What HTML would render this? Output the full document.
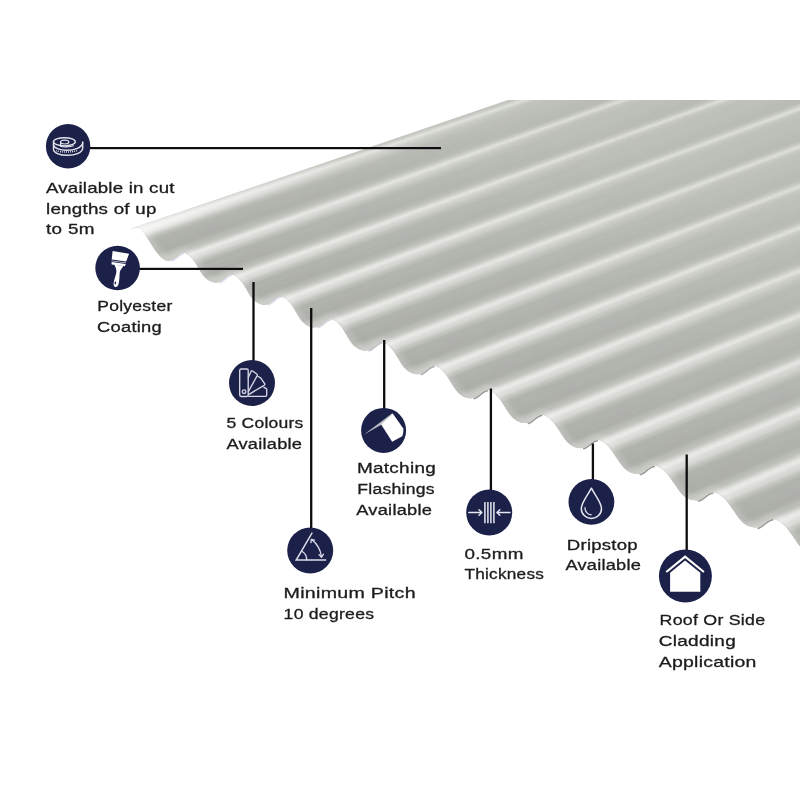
<!DOCTYPE html>
<html lang="en"><head><meta charset="utf-8"><title>Corrugated sheet features</title>
<style>
html,body{margin:0;padding:0;background:#fff;}
body{width:800px;height:800px;overflow:hidden;}
svg{display:block;}
text{font-family:"Liberation Sans",sans-serif;font-size:14.8px;fill:#1c1c1c;stroke:#1c1c1c;stroke-width:0.3px;}
</style></head><body>
<svg width="800" height="800" viewBox="0 0 800 800">
<defs>
<clipPath id="sheet"><path d="M130.1,229.1 L508,100 L800,100 L800,700 L811.4,554.4 L810.2,554.0 L809.0,553.6 L807.8,553.1 L806.6,552.4 L805.3,551.7 L804.1,550.7 L802.9,549.7 L801.7,548.4 L800.5,547.1 L799.3,545.5 L798.0,543.9 L796.8,542.1 L795.6,540.3 L794.4,538.5 L793.2,536.8 L792.0,535.1 L790.7,533.4 L789.5,531.7 L788.3,530.1 L787.1,528.5 L785.9,527.1 L784.7,525.8 L783.4,524.6 L782.2,523.6 L781.0,522.7 L779.8,521.8 L778.6,521.0 L777.4,520.3 L776.1,519.6 L774.9,519.2 L773.7,519.0 L772.5,519.0 L771.3,519.3 L770.1,519.7 L768.8,520.3 L767.6,521.1 L766.4,521.9 L765.2,522.9 L764.0,523.8 L762.8,524.8 L761.5,525.7 L760.3,526.5 L759.1,527.0 L757.9,527.4 L756.7,527.5 L755.5,527.5 L754.2,527.4 L753.1,527.2 L751.9,527.0 L750.7,526.7 L749.5,526.4 L748.3,526.0 L747.1,525.5 L745.9,524.8 L744.7,524.1 L743.5,523.2 L742.3,522.1 L741.2,520.9 L740.0,519.6 L738.8,518.1 L737.6,516.5 L736.4,514.7 L735.2,513.0 L734.0,511.2 L732.8,509.5 L731.6,507.8 L730.5,506.2 L729.3,504.6 L728.1,503.0 L726.9,501.5 L725.7,500.0 L724.5,498.8 L723.3,497.6 L722.1,496.6 L720.9,495.8 L719.7,494.9 L718.6,494.1 L717.4,493.4 L716.2,492.8 L715.0,492.3 L713.8,492.1 L712.6,492.2 L711.4,492.4 L710.2,492.8 L709.0,493.4 L707.9,494.2 L706.7,495.0 L705.5,495.9 L704.3,496.9 L703.1,497.8 L701.9,498.7 L700.7,499.4 L699.5,500.0 L698.3,500.3 L697.1,500.4 L696.0,500.4 L694.8,500.3 L693.6,500.2 L692.4,500.0 L691.3,499.8 L690.1,499.4 L688.9,499.0 L687.8,498.5 L686.6,497.9 L685.5,497.2 L684.3,496.3 L683.1,495.3 L682.0,494.2 L680.8,492.9 L679.6,491.5 L678.5,489.9 L677.3,488.3 L676.2,486.6 L675.0,484.8 L673.8,483.1 L672.7,481.4 L671.5,479.7 L670.3,478.1 L669.2,476.5 L668.0,475.0 L666.8,473.6 L665.7,472.3 L664.5,471.1 L663.4,470.1 L662.2,469.2 L661.0,468.4 L659.9,467.6 L658.7,466.9 L657.5,466.2 L656.4,465.8 L655.2,465.6 L654.0,465.6 L652.9,465.9 L651.7,466.3 L650.6,466.9 L649.4,467.6 L648.2,468.5 L647.1,469.4 L645.9,470.3 L644.7,471.2 L643.6,472.1 L642.4,472.8 L641.2,473.4 L640.1,473.7 L638.9,473.9 L637.8,473.9 L636.6,473.9 L635.5,473.8 L634.3,473.6 L633.2,473.4 L632.1,473.1 L630.9,472.7 L629.8,472.2 L628.7,471.6 L627.5,470.9 L626.4,470.1 L625.3,469.2 L624.2,468.1 L623.0,466.9 L621.9,465.6 L620.8,464.1 L619.6,462.5 L618.5,460.8 L617.4,459.1 L616.2,457.4 L615.1,455.7 L614.0,454.0 L612.9,452.4 L611.7,450.8 L610.6,449.2 L609.5,447.8 L608.3,446.5 L607.2,445.4 L606.1,444.4 L604.9,443.5 L603.8,442.6 L602.7,441.9 L601.6,441.1 L600.4,440.5 L599.3,440.1 L598.2,439.9 L597.0,439.9 L595.9,440.1 L594.8,440.6 L593.6,441.2 L592.5,441.9 L591.4,442.7 L590.2,443.6 L589.1,444.5 L588.0,445.4 L586.9,446.2 L585.7,446.9 L584.6,447.5 L583.5,447.9 L582.3,448.1 L581.2,448.2 L580.1,448.2 L579.0,448.1 L577.9,448.0 L576.8,447.8 L575.7,447.5 L574.5,447.1 L573.4,446.6 L572.3,446.0 L571.2,445.4 L570.1,444.6 L569.0,443.7 L567.9,442.7 L566.8,441.6 L565.7,440.3 L564.6,438.9 L563.5,437.3 L562.4,435.7 L561.3,434.0 L560.2,432.3 L559.1,430.5 L558.0,428.9 L556.9,427.2 L555.7,425.6 L554.6,424.0 L553.5,422.6 L552.4,421.3 L551.3,420.2 L550.2,419.2 L549.1,418.3 L548.0,417.4 L546.9,416.6 L545.8,415.9 L544.7,415.3 L543.6,414.9 L542.5,414.7 L541.4,414.7 L540.3,414.9 L539.2,415.3 L538.1,415.9 L536.9,416.6 L535.8,417.4 L534.7,418.3 L533.6,419.2 L532.5,420.1 L531.4,420.9 L530.3,421.6 L529.2,422.2 L528.1,422.6 L527.0,422.8 L525.9,423.0 L524.8,423.0 L523.7,423.0 L522.6,422.9 L521.5,422.7 L520.5,422.4 L519.4,422.0 L518.3,421.6 L517.2,421.0 L516.1,420.4 L515.0,419.6 L514.0,418.8 L512.9,417.9 L511.8,416.8 L510.7,415.6 L509.6,414.2 L508.5,412.7 L507.5,411.1 L506.4,409.4 L505.3,407.7 L504.2,405.9 L503.1,404.2 L502.1,402.6 L501.0,400.9 L499.9,399.4 L498.8,398.0 L497.7,396.7 L496.6,395.5 L495.6,394.5 L494.5,393.6 L493.4,392.7 L492.3,392.0 L491.2,391.2 L490.1,390.6 L489.1,390.2 L488.0,390.0 L486.9,390.0 L485.8,390.2 L484.7,390.6 L483.7,391.2 L482.6,391.9 L481.5,392.7 L480.4,393.6 L479.3,394.5 L478.2,395.3 L477.2,396.2 L476.1,396.9 L475.0,397.4 L473.9,397.8 L472.8,398.1 L471.7,398.3 L470.7,398.4 L469.6,398.4 L468.5,398.3 L467.5,398.1 L466.4,397.8 L465.4,397.5 L464.3,397.0 L463.3,396.5 L462.2,395.9 L461.1,395.2 L460.1,394.4 L459.0,393.5 L458.0,392.5 L456.9,391.3 L455.8,390.0 L454.8,388.6 L453.7,387.0 L452.7,385.3 L451.6,383.6 L450.5,381.8 L449.5,380.1 L448.4,378.4 L447.4,376.8 L446.3,375.3 L445.2,373.8 L444.2,372.5 L443.1,371.4 L442.1,370.3 L441.0,369.4 L439.9,368.6 L438.9,367.8 L437.8,367.1 L436.8,366.5 L435.7,366.1 L434.6,365.8 L433.6,365.8 L432.5,366.1 L431.5,366.5 L430.4,367.0 L429.3,367.7 L428.3,368.5 L427.2,369.4 L426.2,370.3 L425.1,371.1 L424.1,371.9 L423.0,372.6 L421.9,373.2 L420.9,373.6 L419.8,373.9 L418.8,374.2 L417.7,374.3 L416.7,374.3 L415.6,374.2 L414.6,374.1 L413.5,373.8 L412.5,373.5 L411.5,373.0 L410.4,372.5 L409.4,371.9 L408.4,371.3 L407.3,370.5 L406.3,369.7 L405.2,368.7 L404.2,367.6 L403.2,366.4 L402.1,364.9 L401.1,363.4 L400.1,361.7 L399.0,360.0 L398.0,358.3 L397.0,356.5 L395.9,354.8 L394.9,353.2 L393.8,351.6 L392.8,350.2 L391.8,348.9 L390.7,347.7 L389.7,346.7 L388.7,345.8 L387.6,344.9 L386.6,344.1 L385.5,343.4 L384.5,342.8 L383.5,342.4 L382.4,342.2 L381.4,342.2 L380.4,342.4 L379.3,342.8 L378.3,343.4 L377.2,344.1 L376.2,344.9 L375.2,345.7 L374.1,346.6 L373.1,347.4 L372.1,348.2 L371.0,348.9 L370.0,349.4 L368.9,349.9 L367.9,350.3 L366.9,350.5 L365.8,350.6 L364.8,350.7 L363.8,350.7 L362.8,350.5 L361.8,350.3 L360.8,349.9 L359.7,349.5 L358.7,349.0 L357.7,348.4 L356.7,347.8 L355.7,347.1 L354.7,346.3 L353.6,345.4 L352.6,344.4 L351.6,343.2 L350.6,341.8 L349.6,340.3 L348.6,338.6 L347.5,336.9 L346.5,335.1 L345.5,333.4 L344.5,331.7 L343.5,330.0 L342.5,328.5 L341.5,327.0 L340.4,325.7 L339.4,324.6 L338.4,323.5 L337.4,322.6 L336.4,321.7 L335.4,321.0 L334.3,320.3 L333.3,319.7 L332.3,319.3 L331.3,319.0 L330.3,319.0 L329.3,319.2 L328.2,319.6 L327.2,320.2 L326.2,320.9 L325.2,321.7 L324.2,322.5 L323.2,323.3 L322.2,324.2 L321.1,324.9 L320.1,325.6 L319.1,326.2 L318.1,326.7 L317.1,327.1 L316.1,327.3 L315.0,327.5 L314.0,327.6 L313.1,327.5 L312.1,327.4 L311.1,327.2 L310.1,326.8 L309.1,326.4 L308.1,325.9 L307.1,325.4 L306.1,324.7 L305.1,324.1 L304.1,323.3 L303.1,322.4 L302.1,321.4 L301.1,320.2 L300.1,318.8 L299.1,317.3 L298.1,315.7 L297.1,314.0 L296.1,312.3 L295.1,310.6 L294.1,309.0 L293.1,307.3 L292.2,305.8 L291.2,304.4 L290.2,303.1 L289.2,302.0 L288.2,300.9 L287.2,300.0 L286.2,299.2 L285.2,298.4 L284.2,297.8 L283.2,297.2 L282.2,296.8 L281.2,296.5 L280.2,296.5 L279.2,296.7 L278.2,297.1 L277.2,297.7 L276.2,298.4 L275.2,299.1 L274.2,299.9 L273.2,300.8 L272.3,301.6 L271.3,302.3 L270.3,303.0 L269.3,303.6 L268.3,304.0 L267.3,304.4 L266.3,304.7 L265.3,304.9 L264.3,304.9 L263.3,304.9 L262.4,304.7 L261.4,304.5 L260.4,304.2 L259.4,303.8 L258.5,303.3 L257.5,302.7 L256.5,302.1 L255.5,301.5 L254.6,300.7 L253.6,299.9 L252.6,298.9 L251.6,297.7 L250.7,296.4 L249.7,294.9 L248.7,293.3 L247.7,291.7 L246.8,290.0 L245.8,288.3 L244.8,286.7 L243.8,285.1 L242.9,283.6 L241.9,282.2 L240.9,280.9 L239.9,279.8 L239.0,278.8 L238.0,277.9 L237.0,277.1 L236.0,276.4 L235.1,275.7 L234.1,275.1 L233.1,274.7 L232.1,274.5 L231.2,274.5 L230.2,274.7 L229.2,275.1 L228.2,275.6 L227.3,276.3 L226.3,277.0 L225.3,277.8 L224.3,278.7 L223.4,279.4 L222.4,280.2 L221.4,280.8 L220.4,281.4 L219.5,281.9 L218.5,282.2 L217.5,282.5 L216.5,282.7 L215.6,282.7 L214.6,282.7 L213.7,282.5 L212.7,282.3 L211.8,282.0 L210.8,281.6 L209.9,281.1 L208.9,280.6 L207.9,280.0 L207.0,279.3 L206.0,278.6 L205.1,277.8 L204.1,276.8 L203.2,275.6 L202.2,274.3 L201.3,272.9 L200.3,271.3 L199.4,269.7 L198.4,268.1 L197.4,266.4 L196.5,264.8 L195.5,263.3 L194.6,261.8 L193.6,260.5 L192.7,259.2 L191.7,258.1 L190.8,257.1 L189.8,256.3 L188.8,255.5 L187.9,254.7 L186.9,254.1 L186.0,253.5 L185.0,253.1 L184.1,252.9 L183.1,252.9 L182.2,253.1 L181.2,253.5 L180.2,254.0 L179.3,254.7 L178.3,255.4 L177.4,256.2 L176.4,257.0 L175.5,257.8 L174.5,258.5 L173.6,259.1 L172.6,259.7 L171.6,260.1 L170.7,260.5 L169.7,260.7 L168.8,260.9 L168.1,260.9 L167.4,260.8 L166.7,260.7 L166.0,260.6 L165.2,260.4 L164.5,259.9 L163.7,259.3 L162.8,258.7 L162.0,258.0 L161.1,257.3 L160.2,256.5 L159.3,255.5 L158.4,254.6 L157.5,253.5 L156.6,252.3 L155.6,251.0 L154.7,249.7 L153.8,248.3 L152.8,246.8 L151.9,245.3 L150.9,243.8 L150.0,242.3 L149.1,240.7 L148.1,239.2 L147.2,237.7 L146.2,236.3 L145.3,234.8 L144.4,233.4 L143.4,232.1 L142.5,231.0 L141.6,229.9 L140.7,228.8 L139.8,227.9 L138.8,227.6 L137.4,227.7 L135.8,227.9 L134.3,228.1 L132.9,228.4 L131.5,228.7 L130.1,229.1 Z"/></clipPath>
<filter id="rimblur" filterUnits="userSpaceOnUse" x="0" y="0" width="900" height="800"><feGaussianBlur stdDeviation="2"/></filter>
<linearGradient id="tipfade" gradientUnits="userSpaceOnUse" x1="128" y1="230" x2="340" y2="157.5"><stop offset="0" stop-color="#fff" stop-opacity="0.62"/><stop offset="0.35" stop-color="#fff" stop-opacity="0.36"/><stop offset="1" stop-color="#fff" stop-opacity="0"/></linearGradient>
<linearGradient id="gl1" gradientUnits="userSpaceOnUse" x1="142.3" y1="230.8" x2="532.3" y2="98.5"><stop offset="0" stop-color="#fff" stop-opacity="0.40"/><stop offset="0.45" stop-color="#fff" stop-opacity="0.24"/><stop offset="1" stop-color="#fff" stop-opacity="0"/></linearGradient>
<linearGradient id="gd1" gradientUnits="userSpaceOnUse" x1="154.3" y1="249.1" x2="544.3" y2="114.3"><stop offset="0" stop-color="#000" stop-opacity="0.075"/><stop offset="0.5" stop-color="#000" stop-opacity="0.045"/><stop offset="1" stop-color="#000" stop-opacity="0"/></linearGradient>
<linearGradient id="gl2" gradientUnits="userSpaceOnUse" x1="190.0" y1="256.4" x2="580.0" y2="117.1"><stop offset="0" stop-color="#fff" stop-opacity="0.40"/><stop offset="0.45" stop-color="#fff" stop-opacity="0.24"/><stop offset="1" stop-color="#fff" stop-opacity="0"/></linearGradient>
<linearGradient id="gd2" gradientUnits="userSpaceOnUse" x1="201.5" y1="273.2" x2="591.5" y2="133.3"><stop offset="0" stop-color="#000" stop-opacity="0.075"/><stop offset="0.5" stop-color="#000" stop-opacity="0.045"/><stop offset="1" stop-color="#000" stop-opacity="0"/></linearGradient>
<linearGradient id="gl3" gradientUnits="userSpaceOnUse" x1="238.2" y1="278.1" x2="628.2" y2="136.2"><stop offset="0" stop-color="#fff" stop-opacity="0.40"/><stop offset="0.45" stop-color="#fff" stop-opacity="0.24"/><stop offset="1" stop-color="#fff" stop-opacity="0"/></linearGradient>
<linearGradient id="gd3" gradientUnits="userSpaceOnUse" x1="250.0" y1="295.3" x2="640.0" y2="152.8"><stop offset="0" stop-color="#000" stop-opacity="0.075"/><stop offset="0.5" stop-color="#000" stop-opacity="0.045"/><stop offset="1" stop-color="#000" stop-opacity="0"/></linearGradient>
<linearGradient id="gl4" gradientUnits="userSpaceOnUse" x1="287.4" y1="300.2" x2="677.4" y2="155.7"><stop offset="0" stop-color="#fff" stop-opacity="0.40"/><stop offset="0.45" stop-color="#fff" stop-opacity="0.24"/><stop offset="1" stop-color="#fff" stop-opacity="0"/></linearGradient>
<linearGradient id="gd4" gradientUnits="userSpaceOnUse" x1="299.5" y1="317.9" x2="689.5" y2="172.7"><stop offset="0" stop-color="#000" stop-opacity="0.075"/><stop offset="0.5" stop-color="#000" stop-opacity="0.045"/><stop offset="1" stop-color="#000" stop-opacity="0"/></linearGradient>
<linearGradient id="gl5" gradientUnits="userSpaceOnUse" x1="337.6" y1="322.8" x2="727.6" y2="175.6"><stop offset="0" stop-color="#fff" stop-opacity="0.40"/><stop offset="0.45" stop-color="#fff" stop-opacity="0.24"/><stop offset="1" stop-color="#fff" stop-opacity="0"/></linearGradient>
<linearGradient id="gd5" gradientUnits="userSpaceOnUse" x1="350.1" y1="341.1" x2="740.1" y2="193.3"><stop offset="0" stop-color="#000" stop-opacity="0.075"/><stop offset="0.5" stop-color="#000" stop-opacity="0.045"/><stop offset="1" stop-color="#000" stop-opacity="0"/></linearGradient>
<linearGradient id="gl6" gradientUnits="userSpaceOnUse" x1="388.9" y1="346.0" x2="778.9" y2="196.2"><stop offset="0" stop-color="#fff" stop-opacity="0.40"/><stop offset="0.45" stop-color="#fff" stop-opacity="0.24"/><stop offset="1" stop-color="#fff" stop-opacity="0"/></linearGradient>
<linearGradient id="gd6" gradientUnits="userSpaceOnUse" x1="402.0" y1="364.7" x2="792.0" y2="214.3"><stop offset="0" stop-color="#000" stop-opacity="0.075"/><stop offset="0.5" stop-color="#000" stop-opacity="0.045"/><stop offset="1" stop-color="#000" stop-opacity="0"/></linearGradient>
<linearGradient id="gl7" gradientUnits="userSpaceOnUse" x1="441.4" y1="369.7" x2="831.4" y2="217.3"><stop offset="0" stop-color="#fff" stop-opacity="0.40"/><stop offset="0.45" stop-color="#fff" stop-opacity="0.24"/><stop offset="1" stop-color="#fff" stop-opacity="0"/></linearGradient>
<linearGradient id="gd7" gradientUnits="userSpaceOnUse" x1="455.0" y1="388.8" x2="845.0" y2="235.8"><stop offset="0" stop-color="#000" stop-opacity="0.075"/><stop offset="0.5" stop-color="#000" stop-opacity="0.045"/><stop offset="1" stop-color="#000" stop-opacity="0"/></linearGradient>
<linearGradient id="gl8" gradientUnits="userSpaceOnUse" x1="494.9" y1="393.9" x2="884.9" y2="238.9"><stop offset="0" stop-color="#fff" stop-opacity="0.40"/><stop offset="0.45" stop-color="#fff" stop-opacity="0.24"/><stop offset="1" stop-color="#fff" stop-opacity="0"/></linearGradient>
<linearGradient id="gd8" gradientUnits="userSpaceOnUse" x1="509.1" y1="413.4" x2="899.1" y2="257.7"><stop offset="0" stop-color="#000" stop-opacity="0.075"/><stop offset="0.5" stop-color="#000" stop-opacity="0.045"/><stop offset="1" stop-color="#000" stop-opacity="0"/></linearGradient>
<linearGradient id="gl9" gradientUnits="userSpaceOnUse" x1="549.6" y1="418.7" x2="939.6" y2="261.0"><stop offset="0" stop-color="#fff" stop-opacity="0.40"/><stop offset="0.45" stop-color="#fff" stop-opacity="0.24"/><stop offset="1" stop-color="#fff" stop-opacity="0"/></linearGradient>
<linearGradient id="gd9" gradientUnits="userSpaceOnUse" x1="564.3" y1="438.5" x2="954.3" y2="280.2"><stop offset="0" stop-color="#000" stop-opacity="0.075"/><stop offset="0.5" stop-color="#000" stop-opacity="0.045"/><stop offset="1" stop-color="#000" stop-opacity="0"/></linearGradient>
<linearGradient id="gl10" gradientUnits="userSpaceOnUse" x1="605.5" y1="444.0" x2="995.5" y2="283.7"><stop offset="0" stop-color="#fff" stop-opacity="0.40"/><stop offset="0.45" stop-color="#fff" stop-opacity="0.24"/><stop offset="1" stop-color="#fff" stop-opacity="0"/></linearGradient>
<linearGradient id="gd10" gradientUnits="userSpaceOnUse" x1="620.8" y1="464.2" x2="1010.8" y2="303.2"><stop offset="0" stop-color="#000" stop-opacity="0.075"/><stop offset="0.5" stop-color="#000" stop-opacity="0.045"/><stop offset="1" stop-color="#000" stop-opacity="0"/></linearGradient>
<linearGradient id="gl11" gradientUnits="userSpaceOnUse" x1="662.9" y1="469.8" x2="1052.9" y2="306.9"><stop offset="0" stop-color="#fff" stop-opacity="0.40"/><stop offset="0.45" stop-color="#fff" stop-opacity="0.24"/><stop offset="1" stop-color="#fff" stop-opacity="0"/></linearGradient>
<linearGradient id="gd11" gradientUnits="userSpaceOnUse" x1="678.9" y1="490.5" x2="1068.9" y2="326.9"><stop offset="0" stop-color="#000" stop-opacity="0.075"/><stop offset="0.5" stop-color="#000" stop-opacity="0.045"/><stop offset="1" stop-color="#000" stop-opacity="0"/></linearGradient>
<linearGradient id="gl12" gradientUnits="userSpaceOnUse" x1="721.7" y1="496.3" x2="1111.7" y2="330.8"><stop offset="0" stop-color="#fff" stop-opacity="0.40"/><stop offset="0.45" stop-color="#fff" stop-opacity="0.24"/><stop offset="1" stop-color="#fff" stop-opacity="0"/></linearGradient>
<linearGradient id="gd12" gradientUnits="userSpaceOnUse" x1="738.2" y1="517.4" x2="1128.2" y2="351.1"><stop offset="0" stop-color="#000" stop-opacity="0.075"/><stop offset="0.5" stop-color="#000" stop-opacity="0.045"/><stop offset="1" stop-color="#000" stop-opacity="0"/></linearGradient>
<linearGradient id="gl13" gradientUnits="userSpaceOnUse" x1="781.8" y1="523.3" x2="1171.8" y2="355.1"><stop offset="0" stop-color="#fff" stop-opacity="0.40"/><stop offset="0.45" stop-color="#fff" stop-opacity="0.24"/><stop offset="1" stop-color="#fff" stop-opacity="0"/></linearGradient>
<linearGradient id="gd13" gradientUnits="userSpaceOnUse" x1="798.8" y1="544.9" x2="1188.8" y2="376.0"><stop offset="0" stop-color="#000" stop-opacity="0.075"/><stop offset="0.5" stop-color="#000" stop-opacity="0.045"/><stop offset="1" stop-color="#000" stop-opacity="0"/></linearGradient>
<filter id="glowblur" filterUnits="userSpaceOnUse" x="0" y="0" width="900" height="800"><feGaussianBlur stdDeviation="1.8"/></filter>
<filter id="soft" filterUnits="userSpaceOnUse" x="0" y="0" width="900" height="800"><feGaussianBlur stdDeviation="0.7"/></filter>
</defs>
<rect width="800" height="800" fill="#ffffff"/>
<g id="underside">
<path d="M171.9,260.9 L172.8,260.5 L173.7,260.0 L174.6,259.4 L175.5,258.8 L176.4,258.1 L177.2,257.3 L178.1,256.6 L179.0,255.9 L179.9,255.2 L180.8,254.7 L181.6,254.2 L182.5,253.9 L183.4,253.7" fill="none" stroke="#dcdcee" stroke-width="1.6" stroke-linecap="round"/>
<path d="M219.8,282.7 L220.7,282.2 L221.6,281.7 L222.5,281.1 L223.4,280.5 L224.3,279.8 L225.2,279.0 L226.1,278.3 L227.0,277.5 L227.9,276.9 L228.8,276.3 L229.7,275.8 L230.6,275.5 L231.5,275.3" fill="none" stroke="#dcdcee" stroke-width="1.6" stroke-linecap="round"/>
<path d="M268.6,304.8 L269.5,304.4 L270.4,303.9 L271.3,303.3 L272.2,302.6 L273.2,301.9 L274.1,301.1 L275.0,300.4 L275.9,299.6 L276.8,298.9 L277.8,298.3 L278.7,297.9 L279.6,297.5 L280.5,297.3" fill="none" stroke="#dcdcee" stroke-width="1.6" stroke-linecap="round"/>
<path d="M318.4,327.5 L319.3,327.0 L320.3,326.5 L321.2,325.9 L322.1,325.2 L323.1,324.5 L324.0,323.7 L325.0,322.9 L325.9,322.2 L326.8,321.5 L327.8,320.9 L328.7,320.4 L329.6,320.0 L330.6,319.8" fill="none" stroke="#d2d2e1" stroke-width="1.6" stroke-linecap="round"/>
<path d="M369.2,350.7 L370.2,350.3 L371.2,349.8 L372.1,349.1 L373.1,348.4 L374.0,347.7 L375.0,346.9 L375.9,346.1 L376.9,345.3 L377.9,344.6 L378.8,344.0 L379.8,343.5 L380.7,343.2 L381.7,343.0" fill="none" stroke="#bebec7" stroke-width="1.6" stroke-linecap="round"/>
<path d="M421.2,374.4 L422.2,374.0 L423.1,373.5 L424.1,372.9 L425.1,372.2 L426.1,371.4 L427.0,370.6 L428.0,369.8 L429.0,369.0 L430.0,368.3 L431.0,367.7 L431.9,367.2 L432.9,366.8 L433.9,366.6" fill="none" stroke="#aaabad" stroke-width="1.6" stroke-linecap="round"/>
<path d="M474.2,398.6 L475.2,398.3 L476.2,397.7 L477.2,397.1 L478.2,396.4 L479.2,395.6 L480.2,394.8 L481.2,394.0 L482.2,393.2 L483.2,392.5 L484.2,391.9 L485.2,391.4 L486.2,391.0 L487.2,390.8" fill="none" stroke="#969894" stroke-width="1.6" stroke-linecap="round"/>
<path d="M528.4,423.4 L529.4,423.0 L530.4,422.5 L531.5,421.9 L532.5,421.2 L533.5,420.4 L534.5,419.5 L535.5,418.7 L536.6,417.9 L537.6,417.2 L538.6,416.6 L539.6,416.1 L540.6,415.7 L541.7,415.5" fill="none" stroke="#969894" stroke-width="1.6" stroke-linecap="round"/>
<path d="M583.8,448.7 L584.8,448.3 L585.9,447.8 L586.9,447.2 L587.9,446.4 L589.0,445.6 L590.0,444.8 L591.1,444.0 L592.1,443.2 L593.2,442.4 L594.2,441.8 L595.2,441.3 L596.3,440.9 L597.3,440.7" fill="none" stroke="#969894" stroke-width="1.6" stroke-linecap="round"/>
<path d="M640.4,474.5 L641.5,474.2 L642.5,473.7 L643.6,473.0 L644.7,472.3 L645.8,471.4 L646.8,470.6 L647.9,469.7 L649.0,468.9 L650.0,468.2 L651.1,467.6 L652.2,467.0 L653.3,466.6 L654.3,466.4" fill="none" stroke="#969894" stroke-width="1.6" stroke-linecap="round"/>
<path d="M698.6,501.1 L699.7,500.8 L700.8,500.3 L701.9,499.7 L703.0,498.9 L704.1,498.0 L705.2,497.2 L706.3,496.3 L707.4,495.5 L708.5,494.7 L709.6,494.1 L710.7,493.6 L711.8,493.2 L712.9,493.0" fill="none" stroke="#969894" stroke-width="1.6" stroke-linecap="round"/>
<path d="M758.2,528.2 L759.3,527.9 L760.4,527.4 L761.6,526.7 L762.7,525.9 L763.8,525.0 L764.9,524.1 L766.1,523.2 L767.2,522.4 L768.3,521.7 L769.4,521.0 L770.5,520.5 L771.7,520.1 L772.8,519.8" fill="none" stroke="#969894" stroke-width="1.6" stroke-linecap="round"/>
<path d="M819.1,555.8 L820.3,555.5 L821.4,555.0 L822.6,554.3 L823.7,553.5 L824.8,552.6 L826.0,551.7 L827.1,550.8 L828.3,549.9 L829.4,549.2 L830.6,548.5 L831.7,547.9 L832.9,547.5 L834.0,547.3" fill="none" stroke="#969894" stroke-width="1.6" stroke-linecap="round"/>
</g>
<g clip-path="url(#sheet)">
<rect x="100" y="90" width="720" height="520" fill="#c1c3bd"/>
<g filter="url(#soft)">
<polygon points="130.1,229.1 860.0,-17.0 860.0,-16.4 135.2,228.0" fill="#c3c5bf" stroke="#c3c5bf" stroke-width="0.5"/>
<polygon points="135.2,228.0 860.0,-16.4 860.0,-15.9 137.7,227.7" fill="#c5c7c1" stroke="#c5c7c1" stroke-width="0.5"/>
<polygon points="137.7,227.7 860.0,-15.9 860.0,-15.7 139.0,227.6" fill="#c6c8c2" stroke="#c6c8c2" stroke-width="0.5"/>
<polygon points="139.0,227.6 860.0,-15.7 860.0,-15.5 139.6,227.8" fill="#c8cac4" stroke="#c8cac4" stroke-width="0.5"/>
<polygon points="139.6,227.8 860.0,-15.5 860.0,-15.1 140.1,228.1" fill="#cbcdc7" stroke="#cbcdc7" stroke-width="0.5"/>
<polygon points="140.1,228.1 860.0,-15.1 860.0,-14.7 140.6,228.6" fill="#cfd1cb" stroke="#cfd1cb" stroke-width="0.5"/>
<polygon points="140.6,228.6 860.0,-14.7 860.0,-14.2 141.0,229.1" fill="#d4d6d0" stroke="#d4d6d0" stroke-width="0.5"/>
<polygon points="141.0,229.1 860.0,-14.2 860.0,-13.6 141.5,229.7" fill="#dadcd6" stroke="#dadcd6" stroke-width="0.5"/>
<polygon points="141.5,229.7 860.0,-13.6 860.0,-12.4 142.4,230.9" fill="#dcded8" stroke="#dcded8" stroke-width="0.5"/>
<polygon points="142.4,230.9 860.0,-12.4 860.0,-11.9 142.9,231.4" fill="#d7d9d3" stroke="#d7d9d3" stroke-width="0.5"/>
<polygon points="142.9,231.4 860.0,-11.9 860.0,-11.3 143.4,232.1" fill="#d1d3cd" stroke="#d1d3cd" stroke-width="0.5"/>
<polygon points="143.4,232.1 860.0,-11.3 860.0,-10.6 143.9,232.7" fill="#cccec8" stroke="#cccec8" stroke-width="0.5"/>
<polygon points="143.9,232.7 860.0,-10.6 860.0,-9.9 144.4,233.4" fill="#c8cac4" stroke="#c8cac4" stroke-width="0.5"/>
<polygon points="144.4,233.4 860.0,-9.9 860.0,-9.2 144.8,234.1" fill="#c5c7c1" stroke="#c5c7c1" stroke-width="0.5"/>
<polygon points="144.8,234.1 860.0,-9.2 860.0,-7.8 145.8,235.6" fill="#c2c4be" stroke="#c2c4be" stroke-width="0.5"/>
<polygon points="145.8,235.6 860.0,-7.8 860.0,-5.6 147.3,237.8" fill="#c0c2bc" stroke="#c0c2bc" stroke-width="0.5"/>
<polygon points="147.3,237.8 860.0,-5.6 860.0,0.6 151.2,244.2" fill="#bec0ba" stroke="#bec0ba" stroke-width="0.5"/>
<polygon points="151.2,244.2 860.0,0.6 860.0,4.3 153.6,248.1" fill="#bcbeb8" stroke="#bcbeb8" stroke-width="0.5"/>
<polygon points="153.6,248.1 860.0,4.3 860.0,8.3 156.6,252.3" fill="#babcb6" stroke="#babcb6" stroke-width="0.5"/>
<polygon points="156.6,252.3 860.0,8.3 860.0,12.5 160.9,257.0" fill="#b9bbb5" stroke="#b9bbb5" stroke-width="0.5"/>
<polygon points="160.9,257.0 860.0,12.5 860.0,13.1 161.8,257.8" fill="#bcbeb8" stroke="#bcbeb8" stroke-width="0.5"/>
<polygon points="161.8,257.8 860.0,13.1 860.0,13.7 162.6,258.5" fill="#bec0ba" stroke="#bec0ba" stroke-width="0.5"/>
<polygon points="162.6,258.5 860.0,13.7 860.0,14.2 163.5,259.2" fill="#c1c3bd" stroke="#c1c3bd" stroke-width="0.5"/>
<polygon points="163.5,259.2 860.0,14.2 860.0,15.7 167.5,260.8" fill="#c2c4be" stroke="#c2c4be" stroke-width="0.5"/>
<polygon points="167.5,260.8 860.0,15.7 860.0,16.0 171.9,260.0" fill="#c2c4be" stroke="#c2c4be" stroke-width="0.5"/>
<polygon points="171.9,260.0 860.0,16.0 860.0,13.9 176.8,256.6" fill="#c2c4be" stroke="#c2c4be" stroke-width="0.5"/>
<polygon points="176.8,256.6 860.0,13.9 860.0,11.8 181.8,253.2" fill="#c2c4be" stroke="#c2c4be" stroke-width="0.5"/>
<polygon points="181.8,253.2 860.0,11.8 860.0,12.2 184.3,252.9" fill="#c3c5bf" stroke="#c3c5bf" stroke-width="0.5"/>
<polygon points="184.3,252.9 860.0,12.2 860.0,12.7 185.3,253.2" fill="#c5c7c1" stroke="#c5c7c1" stroke-width="0.5"/>
<polygon points="185.3,253.2 860.0,12.7 860.0,13.1 185.8,253.4" fill="#c7c9c3" stroke="#c7c9c3" stroke-width="0.5"/>
<polygon points="185.8,253.4 860.0,13.1 860.0,13.4 186.3,253.7" fill="#c9cbc5" stroke="#c9cbc5" stroke-width="0.5"/>
<polygon points="186.3,253.7 860.0,13.4 860.0,13.9 186.8,254.0" fill="#cdcfc9" stroke="#cdcfc9" stroke-width="0.5"/>
<polygon points="186.8,254.0 860.0,13.9 860.0,14.3 187.3,254.3" fill="#d1d3cd" stroke="#d1d3cd" stroke-width="0.5"/>
<polygon points="187.3,254.3 860.0,14.3 860.0,14.8 187.8,254.7" fill="#d5d7d1" stroke="#d5d7d1" stroke-width="0.5"/>
<polygon points="187.8,254.7 860.0,14.8 860.0,15.3 188.3,255.0" fill="#d9dbd5" stroke="#d9dbd5" stroke-width="0.5"/>
<polygon points="188.3,255.0 860.0,15.3 860.0,16.3 189.3,255.8" fill="#dcded8" stroke="#dcded8" stroke-width="0.5"/>
<polygon points="189.3,255.8 860.0,16.3 860.0,16.9 189.8,256.2" fill="#dadcd6" stroke="#dadcd6" stroke-width="0.5"/>
<polygon points="189.8,256.2 860.0,16.9 860.0,17.5 190.3,256.7" fill="#d5d7d1" stroke="#d5d7d1" stroke-width="0.5"/>
<polygon points="190.3,256.7 860.0,17.5 860.0,18.1 190.8,257.2" fill="#d0d2cc" stroke="#d0d2cc" stroke-width="0.5"/>
<polygon points="190.8,257.2 860.0,18.1 860.0,18.7 191.3,257.7" fill="#cbcdc7" stroke="#cbcdc7" stroke-width="0.5"/>
<polygon points="191.3,257.7 860.0,18.7 860.0,19.4 191.8,258.2" fill="#c8cac4" stroke="#c8cac4" stroke-width="0.5"/>
<polygon points="191.8,258.2 860.0,19.4 860.0,20.1 192.3,258.7" fill="#c5c7c1" stroke="#c5c7c1" stroke-width="0.5"/>
<polygon points="192.3,258.7 860.0,20.1 860.0,21.5 193.3,260.0" fill="#c3c5bf" stroke="#c3c5bf" stroke-width="0.5"/>
<polygon points="193.3,260.0 860.0,21.5 860.0,23.2 194.3,261.3" fill="#c0c2bc" stroke="#c0c2bc" stroke-width="0.5"/>
<polygon points="194.3,261.3 860.0,23.2 860.0,27.8 196.7,265.3" fill="#bec0ba" stroke="#bec0ba" stroke-width="0.5"/>
<polygon points="196.7,265.3 860.0,27.8 860.0,34.6 200.2,271.2" fill="#bdbfb9" stroke="#bdbfb9" stroke-width="0.5"/>
<polygon points="200.2,271.2 860.0,34.6 860.0,39.1 202.7,275.0" fill="#bbbdb7" stroke="#bbbdb7" stroke-width="0.5"/>
<polygon points="202.7,275.0 860.0,39.1 860.0,45.2 207.7,279.8" fill="#b9bbb5" stroke="#b9bbb5" stroke-width="0.5"/>
<polygon points="207.7,279.8 860.0,45.2 860.0,46.1 208.7,280.5" fill="#bcbeb8" stroke="#bcbeb8" stroke-width="0.5"/>
<polygon points="208.7,280.5 860.0,46.1 860.0,47.0 209.7,281.0" fill="#bec0ba" stroke="#bec0ba" stroke-width="0.5"/>
<polygon points="209.7,281.0 860.0,47.0 860.0,47.7 210.7,281.5" fill="#c1c3bd" stroke="#c1c3bd" stroke-width="0.5"/>
<polygon points="210.7,281.5 860.0,47.7 860.0,50.3 215.7,282.7" fill="#c2c4be" stroke="#c2c4be" stroke-width="0.5"/>
<polygon points="215.7,282.7 860.0,50.3 860.0,50.2 220.7,281.2" fill="#c2c4be" stroke="#c2c4be" stroke-width="0.5"/>
<polygon points="220.7,281.2 860.0,50.2 860.0,47.8 225.8,277.5" fill="#c2c4be" stroke="#c2c4be" stroke-width="0.5"/>
<polygon points="225.8,277.5 860.0,47.8 860.0,46.3 230.9,274.6" fill="#c2c4be" stroke="#c2c4be" stroke-width="0.5"/>
<polygon points="230.9,274.6 860.0,46.3 860.0,46.7 232.4,274.5" fill="#c3c5bf" stroke="#c3c5bf" stroke-width="0.5"/>
<polygon points="232.4,274.5 860.0,46.7 860.0,47.3 233.4,274.8" fill="#c5c7c1" stroke="#c5c7c1" stroke-width="0.5"/>
<polygon points="233.4,274.8 860.0,47.3 860.0,47.6 233.9,275.1" fill="#c7c9c3" stroke="#c7c9c3" stroke-width="0.5"/>
<polygon points="233.9,275.1 860.0,47.6 860.0,48.0 234.4,275.3" fill="#c9cbc5" stroke="#c9cbc5" stroke-width="0.5"/>
<polygon points="234.4,275.3 860.0,48.0 860.0,48.5 234.9,275.6" fill="#cdcfc9" stroke="#cdcfc9" stroke-width="0.5"/>
<polygon points="234.9,275.6 860.0,48.5 860.0,48.9 235.4,275.9" fill="#d1d3cd" stroke="#d1d3cd" stroke-width="0.5"/>
<polygon points="235.4,275.9 860.0,48.9 860.0,49.4 235.9,276.3" fill="#d5d7d1" stroke="#d5d7d1" stroke-width="0.5"/>
<polygon points="235.9,276.3 860.0,49.4 860.0,49.9 236.4,276.7" fill="#dadcd6" stroke="#dadcd6" stroke-width="0.5"/>
<polygon points="236.4,276.7 860.0,49.9 860.0,51.0 237.5,277.5" fill="#dcded8" stroke="#dcded8" stroke-width="0.5"/>
<polygon points="237.5,277.5 860.0,51.0 860.0,51.6 238.0,277.9" fill="#dadcd6" stroke="#dadcd6" stroke-width="0.5"/>
<polygon points="238.0,277.9 860.0,51.6 860.0,52.2 238.5,278.4" fill="#d5d7d1" stroke="#d5d7d1" stroke-width="0.5"/>
<polygon points="238.5,278.4 860.0,52.2 860.0,52.8 239.0,278.8" fill="#d0d2cc" stroke="#d0d2cc" stroke-width="0.5"/>
<polygon points="239.0,278.8 860.0,52.8 860.0,53.5 239.5,279.3" fill="#cbcdc7" stroke="#cbcdc7" stroke-width="0.5"/>
<polygon points="239.5,279.3 860.0,53.5 860.0,54.1 240.0,279.9" fill="#c8cac4" stroke="#c8cac4" stroke-width="0.5"/>
<polygon points="240.0,279.9 860.0,54.1 860.0,54.9 240.5,280.5" fill="#c5c7c1" stroke="#c5c7c1" stroke-width="0.5"/>
<polygon points="240.5,280.5 860.0,54.9 860.0,56.4 241.5,281.7" fill="#c3c5bf" stroke="#c3c5bf" stroke-width="0.5"/>
<polygon points="241.5,281.7 860.0,56.4 860.0,58.1 242.5,283.1" fill="#c0c2bc" stroke="#c0c2bc" stroke-width="0.5"/>
<polygon points="242.5,283.1 860.0,58.1 860.0,62.8 245.1,287.1" fill="#bec0ba" stroke="#bec0ba" stroke-width="0.5"/>
<polygon points="245.1,287.1 860.0,62.8 860.0,69.8 248.6,293.2" fill="#bdbfb9" stroke="#bdbfb9" stroke-width="0.5"/>
<polygon points="248.6,293.2 860.0,69.8 860.0,74.5 251.2,297.1" fill="#bbbdb7" stroke="#bbbdb7" stroke-width="0.5"/>
<polygon points="251.2,297.1 860.0,74.5 860.0,80.8 256.3,302.0" fill="#b9bbb5" stroke="#b9bbb5" stroke-width="0.5"/>
<polygon points="256.3,302.0 860.0,80.8 860.0,81.7 257.3,302.6" fill="#bcbeb8" stroke="#bcbeb8" stroke-width="0.5"/>
<polygon points="257.3,302.6 860.0,81.7 860.0,82.6 258.3,303.2" fill="#bec0ba" stroke="#bec0ba" stroke-width="0.5"/>
<polygon points="258.3,303.2 860.0,82.6 860.0,83.4 259.3,303.7" fill="#c1c3bd" stroke="#c1c3bd" stroke-width="0.5"/>
<polygon points="259.3,303.7 860.0,83.4 860.0,86.0 264.4,304.9" fill="#c2c4be" stroke="#c2c4be" stroke-width="0.5"/>
<polygon points="264.4,304.9 860.0,86.0 860.0,86.0 269.5,303.4" fill="#c2c4be" stroke="#c2c4be" stroke-width="0.5"/>
<polygon points="269.5,303.4 860.0,86.0 860.0,83.7 274.7,299.5" fill="#c2c4be" stroke="#c2c4be" stroke-width="0.5"/>
<polygon points="274.7,299.5 860.0,83.7 860.0,82.2 279.9,296.6" fill="#c2c4be" stroke="#c2c4be" stroke-width="0.5"/>
<polygon points="279.9,296.6 860.0,82.2 860.0,82.6 281.5,296.6" fill="#c3c5bf" stroke="#c3c5bf" stroke-width="0.5"/>
<polygon points="281.5,296.6 860.0,82.6 860.0,83.2 282.5,296.9" fill="#c5c7c1" stroke="#c5c7c1" stroke-width="0.5"/>
<polygon points="282.5,296.9 860.0,83.2 860.0,83.6 283.0,297.1" fill="#c7c9c3" stroke="#c7c9c3" stroke-width="0.5"/>
<polygon points="283.0,297.1 860.0,83.6 860.0,84.0 283.5,297.4" fill="#caccc6" stroke="#caccc6" stroke-width="0.5"/>
<polygon points="283.5,297.4 860.0,84.0 860.0,84.5 284.0,297.7" fill="#cdcfc9" stroke="#cdcfc9" stroke-width="0.5"/>
<polygon points="284.0,297.7 860.0,84.5 860.0,85.0 284.6,298.0" fill="#d1d3cd" stroke="#d1d3cd" stroke-width="0.5"/>
<polygon points="284.6,298.0 860.0,85.0 860.0,85.5 285.1,298.4" fill="#d5d7d1" stroke="#d5d7d1" stroke-width="0.5"/>
<polygon points="285.1,298.4 860.0,85.5 860.0,86.0 285.6,298.8" fill="#dadcd6" stroke="#dadcd6" stroke-width="0.5"/>
<polygon points="285.6,298.8 860.0,86.0 860.0,87.2 286.6,299.6" fill="#dcded8" stroke="#dcded8" stroke-width="0.5"/>
<polygon points="286.6,299.6 860.0,87.2 860.0,87.7 287.2,300.0" fill="#dadcd6" stroke="#dadcd6" stroke-width="0.5"/>
<polygon points="287.2,300.0 860.0,87.7 860.0,88.4 287.7,300.5" fill="#d5d7d1" stroke="#d5d7d1" stroke-width="0.5"/>
<polygon points="287.7,300.5 860.0,88.4 860.0,89.0 288.2,301.0" fill="#d0d2cc" stroke="#d0d2cc" stroke-width="0.5"/>
<polygon points="288.2,301.0 860.0,89.0 860.0,89.7 288.7,301.5" fill="#cbcdc7" stroke="#cbcdc7" stroke-width="0.5"/>
<polygon points="288.7,301.5 860.0,89.7 860.0,90.4 289.2,302.0" fill="#c8cac4" stroke="#c8cac4" stroke-width="0.5"/>
<polygon points="289.2,302.0 860.0,90.4 860.0,91.1 289.8,302.6" fill="#c5c7c1" stroke="#c5c7c1" stroke-width="0.5"/>
<polygon points="289.8,302.6 860.0,91.1 860.0,92.7 290.8,303.9" fill="#c3c5bf" stroke="#c3c5bf" stroke-width="0.5"/>
<polygon points="290.8,303.9 860.0,92.7 860.0,94.4 291.8,305.3" fill="#c0c2bc" stroke="#c0c2bc" stroke-width="0.5"/>
<polygon points="291.8,305.3 860.0,94.4 860.0,99.3 294.4,309.4" fill="#bec0ba" stroke="#bec0ba" stroke-width="0.5"/>
<polygon points="294.4,309.4 860.0,99.3 860.0,106.5 298.0,315.6" fill="#bdbfb9" stroke="#bdbfb9" stroke-width="0.5"/>
<polygon points="298.0,315.6 860.0,106.5 860.0,111.3 300.6,319.6" fill="#bbbdb7" stroke="#bbbdb7" stroke-width="0.5"/>
<polygon points="300.6,319.6 860.0,111.3 860.0,117.8 305.8,324.6" fill="#b9bbb5" stroke="#b9bbb5" stroke-width="0.5"/>
<polygon points="305.8,324.6 860.0,117.8 860.0,118.8 306.9,325.2" fill="#bbbdb7" stroke="#bbbdb7" stroke-width="0.5"/>
<polygon points="306.9,325.2 860.0,118.8 860.0,119.7 307.9,325.8" fill="#bdbfb9" stroke="#bdbfb9" stroke-width="0.5"/>
<polygon points="307.9,325.8 860.0,119.7 860.0,120.5 308.9,326.3" fill="#c0c2bc" stroke="#c0c2bc" stroke-width="0.5"/>
<polygon points="308.9,326.3 860.0,120.5 860.0,123.3 314.1,327.6" fill="#c2c4be" stroke="#c2c4be" stroke-width="0.5"/>
<polygon points="314.1,327.6 860.0,123.3 860.0,123.4 319.4,326.0" fill="#c2c4be" stroke="#c2c4be" stroke-width="0.5"/>
<polygon points="319.4,326.0 860.0,123.4 860.0,121.0 324.7,322.1" fill="#c2c4be" stroke="#c2c4be" stroke-width="0.5"/>
<polygon points="324.7,322.1 860.0,121.0 860.0,119.6 330.0,319.1" fill="#c2c4be" stroke="#c2c4be" stroke-width="0.5"/>
<polygon points="330.0,319.1 860.0,119.6 860.0,120.1 331.5,319.1" fill="#c3c5bf" stroke="#c3c5bf" stroke-width="0.5"/>
<polygon points="331.5,319.1 860.0,120.1 860.0,120.7 332.6,319.4" fill="#c5c7c1" stroke="#c5c7c1" stroke-width="0.5"/>
<polygon points="332.6,319.4 860.0,120.7 860.0,121.1 333.1,319.6" fill="#c7c9c3" stroke="#c7c9c3" stroke-width="0.5"/>
<polygon points="333.1,319.6 860.0,121.1 860.0,121.6 333.7,319.9" fill="#caccc6" stroke="#caccc6" stroke-width="0.5"/>
<polygon points="333.7,319.9 860.0,121.6 860.0,122.0 334.2,320.2" fill="#cdcfc9" stroke="#cdcfc9" stroke-width="0.5"/>
<polygon points="334.2,320.2 860.0,122.0 860.0,122.5 334.7,320.5" fill="#d1d3cd" stroke="#d1d3cd" stroke-width="0.5"/>
<polygon points="334.7,320.5 860.0,122.5 860.0,123.1 335.3,320.9" fill="#d5d7d1" stroke="#d5d7d1" stroke-width="0.5"/>
<polygon points="335.3,320.9 860.0,123.1 860.0,123.6 335.8,321.3" fill="#dadcd6" stroke="#dadcd6" stroke-width="0.5"/>
<polygon points="335.8,321.3 860.0,123.6 860.0,124.8 336.8,322.1" fill="#dcded8" stroke="#dcded8" stroke-width="0.5"/>
<polygon points="336.8,322.1 860.0,124.8 860.0,125.4 337.4,322.6" fill="#dadcd6" stroke="#dadcd6" stroke-width="0.5"/>
<polygon points="337.4,322.6 860.0,125.4 860.0,126.0 337.9,323.0" fill="#d6d8d2" stroke="#d6d8d2" stroke-width="0.5"/>
<polygon points="337.9,323.0 860.0,126.0 860.0,126.7 338.4,323.5" fill="#d0d2cc" stroke="#d0d2cc" stroke-width="0.5"/>
<polygon points="338.4,323.5 860.0,126.7 860.0,127.4 339.0,324.1" fill="#cccec8" stroke="#cccec8" stroke-width="0.5"/>
<polygon points="339.0,324.1 860.0,127.4 860.0,128.1 339.5,324.6" fill="#c8cac4" stroke="#c8cac4" stroke-width="0.5"/>
<polygon points="339.5,324.6 860.0,128.1 860.0,128.9 340.0,325.2" fill="#c6c8c2" stroke="#c6c8c2" stroke-width="0.5"/>
<polygon points="340.0,325.2 860.0,128.9 860.0,130.5 341.1,326.5" fill="#c3c5bf" stroke="#c3c5bf" stroke-width="0.5"/>
<polygon points="341.1,326.5 860.0,130.5 860.0,132.3 342.1,328.0" fill="#c1c3bd" stroke="#c1c3bd" stroke-width="0.5"/>
<polygon points="342.1,328.0 860.0,132.3 860.0,136.2 344.2,331.3" fill="#bfc1bb" stroke="#bfc1bb" stroke-width="0.5"/>
<polygon points="344.2,331.3 860.0,136.2 860.0,143.7 347.9,337.6" fill="#bdbfb9" stroke="#bdbfb9" stroke-width="0.5"/>
<polygon points="347.9,337.6 860.0,143.7 860.0,148.7 350.6,341.8" fill="#bbbdb7" stroke="#bbbdb7" stroke-width="0.5"/>
<polygon points="350.6,341.8 860.0,148.7 860.0,155.9 355.9,347.3" fill="#b9bbb5" stroke="#b9bbb5" stroke-width="0.5"/>
<polygon points="355.9,347.3 860.0,155.9 860.0,157.4 357.5,348.3" fill="#bbbdb7" stroke="#bbbdb7" stroke-width="0.5"/>
<polygon points="357.5,348.3 860.0,157.4 860.0,158.3 358.5,348.9" fill="#bdbfb9" stroke="#bdbfb9" stroke-width="0.5"/>
<polygon points="358.5,348.9 860.0,158.3 860.0,159.2 359.6,349.4" fill="#bfc1bb" stroke="#bfc1bb" stroke-width="0.5"/>
<polygon points="359.6,349.4 860.0,159.2 860.0,162.1 364.9,350.7" fill="#c2c4be" stroke="#c2c4be" stroke-width="0.5"/>
<polygon points="364.9,350.7 860.0,162.1 860.0,162.4 370.3,349.3" fill="#c2c4be" stroke="#c2c4be" stroke-width="0.5"/>
<polygon points="370.3,349.3 860.0,162.4 860.0,160.1 375.7,345.3" fill="#c2c4be" stroke="#c2c4be" stroke-width="0.5"/>
<polygon points="375.7,345.3 860.0,160.1 860.0,158.8 381.1,342.2" fill="#c2c4be" stroke="#c2c4be" stroke-width="0.5"/>
<polygon points="381.1,342.2 860.0,158.8 860.0,159.3 382.7,342.2" fill="#c3c5bf" stroke="#c3c5bf" stroke-width="0.5"/>
<polygon points="382.7,342.2 860.0,159.3 860.0,160.0 383.8,342.5" fill="#c5c7c1" stroke="#c5c7c1" stroke-width="0.5"/>
<polygon points="383.8,342.5 860.0,160.0 860.0,160.4 384.3,342.8" fill="#c7c9c3" stroke="#c7c9c3" stroke-width="0.5"/>
<polygon points="384.3,342.8 860.0,160.4 860.0,160.8 384.8,343.0" fill="#caccc6" stroke="#caccc6" stroke-width="0.5"/>
<polygon points="384.8,343.0 860.0,160.8 860.0,161.3 385.4,343.3" fill="#cdcfc9" stroke="#cdcfc9" stroke-width="0.5"/>
<polygon points="385.4,343.3 860.0,161.3 860.0,161.8 385.9,343.7" fill="#d1d3cd" stroke="#d1d3cd" stroke-width="0.5"/>
<polygon points="385.9,343.7 860.0,161.8 860.0,162.4 386.5,344.1" fill="#d5d7d1" stroke="#d5d7d1" stroke-width="0.5"/>
<polygon points="386.5,344.1 860.0,162.4 860.0,162.9 387.0,344.5" fill="#d9dbd5" stroke="#d9dbd5" stroke-width="0.5"/>
<polygon points="387.0,344.5 860.0,162.9 860.0,164.1 388.1,345.3" fill="#dcded8" stroke="#dcded8" stroke-width="0.5"/>
<polygon points="388.1,345.3 860.0,164.1 860.0,164.7 388.6,345.7" fill="#dadcd6" stroke="#dadcd6" stroke-width="0.5"/>
<polygon points="388.6,345.7 860.0,164.7 860.0,165.4 389.2,346.2" fill="#d6d8d2" stroke="#d6d8d2" stroke-width="0.5"/>
<polygon points="389.2,346.2 860.0,165.4 860.0,166.1 389.7,346.7" fill="#d1d3cd" stroke="#d1d3cd" stroke-width="0.5"/>
<polygon points="389.7,346.7 860.0,166.1 860.0,166.8 390.3,347.2" fill="#cccec8" stroke="#cccec8" stroke-width="0.5"/>
<polygon points="390.3,347.2 860.0,166.8 860.0,167.5 390.8,347.8" fill="#c9cbc5" stroke="#c9cbc5" stroke-width="0.5"/>
<polygon points="390.8,347.8 860.0,167.5 860.0,168.3 391.3,348.4" fill="#c6c8c2" stroke="#c6c8c2" stroke-width="0.5"/>
<polygon points="391.3,348.4 860.0,168.3 860.0,169.9 392.4,349.7" fill="#c3c5bf" stroke="#c3c5bf" stroke-width="0.5"/>
<polygon points="392.4,349.7 860.0,169.9 860.0,171.7 393.5,351.1" fill="#c1c3bd" stroke="#c1c3bd" stroke-width="0.5"/>
<polygon points="393.5,351.1 860.0,171.7 860.0,175.7 395.7,354.4" fill="#bfc1bb" stroke="#bfc1bb" stroke-width="0.5"/>
<polygon points="395.7,354.4 860.0,175.7 860.0,184.2 400.0,361.6" fill="#bdbfb9" stroke="#bdbfb9" stroke-width="0.5"/>
<polygon points="400.0,361.6 860.0,184.2 860.0,189.3 402.7,365.7" fill="#bbbdb7" stroke="#bbbdb7" stroke-width="0.5"/>
<polygon points="402.7,365.7 860.0,189.3 860.0,196.4 408.1,371.1" fill="#b9bbb5" stroke="#b9bbb5" stroke-width="0.5"/>
<polygon points="408.1,371.1 860.0,196.4 860.0,198.0 409.7,372.1" fill="#bbbdb7" stroke="#bbbdb7" stroke-width="0.5"/>
<polygon points="409.7,372.1 860.0,198.0 860.0,198.9 410.8,372.7" fill="#bdbfb9" stroke="#bdbfb9" stroke-width="0.5"/>
<polygon points="410.8,372.7 860.0,198.9 860.0,199.8 411.9,373.2" fill="#bfc1bb" stroke="#bfc1bb" stroke-width="0.5"/>
<polygon points="411.9,373.2 860.0,199.8 860.0,202.6 417.3,374.3" fill="#c2c4be" stroke="#c2c4be" stroke-width="0.5"/>
<polygon points="417.3,374.3 860.0,202.6 860.0,202.9 422.8,372.7" fill="#c2c4be" stroke="#c2c4be" stroke-width="0.5"/>
<polygon points="422.8,372.7 860.0,202.9 860.0,200.6 428.3,368.5" fill="#c2c4be" stroke="#c2c4be" stroke-width="0.5"/>
<polygon points="428.3,368.5 860.0,200.6 860.0,199.7 433.8,365.8" fill="#c2c4be" stroke="#c2c4be" stroke-width="0.5"/>
<polygon points="433.8,365.8 860.0,199.7 860.0,200.4 435.5,366.0" fill="#c4c6c0" stroke="#c4c6c0" stroke-width="0.5"/>
<polygon points="435.5,366.0 860.0,200.4 860.0,200.8 436.0,366.2" fill="#c6c8c2" stroke="#c6c8c2" stroke-width="0.5"/>
<polygon points="436.0,366.2 860.0,200.8 860.0,201.2 436.6,366.4" fill="#c7c9c3" stroke="#c7c9c3" stroke-width="0.5"/>
<polygon points="436.6,366.4 860.0,201.2 860.0,201.7 437.1,366.7" fill="#caccc6" stroke="#caccc6" stroke-width="0.5"/>
<polygon points="437.1,366.7 860.0,201.7 860.0,202.2 437.7,367.0" fill="#cdcfc9" stroke="#cdcfc9" stroke-width="0.5"/>
<polygon points="437.7,367.0 860.0,202.2 860.0,202.7 438.2,367.3" fill="#d1d3cd" stroke="#d1d3cd" stroke-width="0.5"/>
<polygon points="438.2,367.3 860.0,202.7 860.0,203.3 438.8,367.7" fill="#d5d7d1" stroke="#d5d7d1" stroke-width="0.5"/>
<polygon points="438.8,367.7 860.0,203.3 860.0,203.8 439.3,368.1" fill="#d9dbd5" stroke="#d9dbd5" stroke-width="0.5"/>
<polygon points="439.3,368.1 860.0,203.8 860.0,205.7 441.0,369.4" fill="#dcded8" stroke="#dcded8" stroke-width="0.5"/>
<polygon points="441.0,369.4 860.0,205.7 860.0,206.3 441.5,369.9" fill="#d7d9d3" stroke="#d7d9d3" stroke-width="0.5"/>
<polygon points="441.5,369.9 860.0,206.3 860.0,207.0 442.1,370.4" fill="#d2d4ce" stroke="#d2d4ce" stroke-width="0.5"/>
<polygon points="442.1,370.4 860.0,207.0 860.0,207.7 442.6,370.9" fill="#cdcfc9" stroke="#cdcfc9" stroke-width="0.5"/>
<polygon points="442.6,370.9 860.0,207.7 860.0,208.5 443.2,371.4" fill="#c9cbc5" stroke="#c9cbc5" stroke-width="0.5"/>
<polygon points="443.2,371.4 860.0,208.5 860.0,209.2 443.7,372.0" fill="#c6c8c2" stroke="#c6c8c2" stroke-width="0.5"/>
<polygon points="443.7,372.0 860.0,209.2 860.0,210.9 444.8,373.3" fill="#c4c6c0" stroke="#c4c6c0" stroke-width="0.5"/>
<polygon points="444.8,373.3 860.0,210.9 860.0,212.7 445.9,374.8" fill="#c1c3bd" stroke="#c1c3bd" stroke-width="0.5"/>
<polygon points="445.9,374.8 860.0,212.7 860.0,216.7 448.2,378.0" fill="#bfc1bb" stroke="#bfc1bb" stroke-width="0.5"/>
<polygon points="448.2,378.0 860.0,216.7 860.0,225.4 452.6,385.2" fill="#bdbfb9" stroke="#bdbfb9" stroke-width="0.5"/>
<polygon points="452.6,385.2 860.0,225.4 860.0,230.5 455.3,389.3" fill="#bbbdb7" stroke="#bbbdb7" stroke-width="0.5"/>
<polygon points="455.3,389.3 860.0,230.5 860.0,238.0 460.8,395.0" fill="#b9bbb5" stroke="#b9bbb5" stroke-width="0.5"/>
<polygon points="460.8,395.0 860.0,238.0 860.0,239.7 462.5,396.1" fill="#babcb6" stroke="#babcb6" stroke-width="0.5"/>
<polygon points="462.5,396.1 860.0,239.7 860.0,240.7 463.6,396.7" fill="#bcbeb8" stroke="#bcbeb8" stroke-width="0.5"/>
<polygon points="463.6,396.7 860.0,240.7 860.0,241.6 464.7,397.2" fill="#bec0ba" stroke="#bec0ba" stroke-width="0.5"/>
<polygon points="464.7,397.2 860.0,241.6 860.0,242.4 465.8,397.6" fill="#c0c2bc" stroke="#c0c2bc" stroke-width="0.5"/>
<polygon points="465.8,397.6 860.0,242.4 860.0,245.0 471.3,398.3" fill="#c2c4be" stroke="#c2c4be" stroke-width="0.5"/>
<polygon points="471.3,398.3 860.0,245.0 860.0,244.9 477.0,396.3" fill="#c2c4be" stroke="#c2c4be" stroke-width="0.5"/>
<polygon points="477.0,396.3 860.0,244.9 860.0,242.5 482.6,391.9" fill="#c2c4be" stroke="#c2c4be" stroke-width="0.5"/>
<polygon points="482.6,391.9 860.0,242.5 860.0,242.6 488.3,390.0" fill="#c2c4be" stroke="#c2c4be" stroke-width="0.5"/>
<polygon points="488.3,390.0 860.0,242.6 860.0,243.3 489.4,390.3" fill="#c5c7c1" stroke="#c5c7c1" stroke-width="0.5"/>
<polygon points="489.4,390.3 860.0,243.3 860.0,243.7 489.9,390.6" fill="#c7c9c3" stroke="#c7c9c3" stroke-width="0.5"/>
<polygon points="489.9,390.6 860.0,243.7 860.0,244.2 490.5,390.8" fill="#c9cbc5" stroke="#c9cbc5" stroke-width="0.5"/>
<polygon points="490.5,390.8 860.0,244.2 860.0,244.7 491.1,391.1" fill="#cdcfc9" stroke="#cdcfc9" stroke-width="0.5"/>
<polygon points="491.1,391.1 860.0,244.7 860.0,245.2 491.6,391.5" fill="#d0d2cc" stroke="#d0d2cc" stroke-width="0.5"/>
<polygon points="491.6,391.5 860.0,245.2 860.0,245.8 492.2,391.9" fill="#d5d7d1" stroke="#d5d7d1" stroke-width="0.5"/>
<polygon points="492.2,391.9 860.0,245.8 860.0,246.4 492.8,392.3" fill="#d9dbd5" stroke="#d9dbd5" stroke-width="0.5"/>
<polygon points="492.8,392.3 860.0,246.4 860.0,248.3 494.5,393.6" fill="#dcded8" stroke="#dcded8" stroke-width="0.5"/>
<polygon points="494.5,393.6 860.0,248.3 860.0,248.9 495.0,394.0" fill="#d7d9d3" stroke="#d7d9d3" stroke-width="0.5"/>
<polygon points="495.0,394.0 860.0,248.9 860.0,249.6 495.6,394.5" fill="#d2d4ce" stroke="#d2d4ce" stroke-width="0.5"/>
<polygon points="495.6,394.5 860.0,249.6 860.0,250.3 496.1,395.0" fill="#cdcfc9" stroke="#cdcfc9" stroke-width="0.5"/>
<polygon points="496.1,395.0 860.0,250.3 860.0,251.1 496.7,395.6" fill="#caccc6" stroke="#caccc6" stroke-width="0.5"/>
<polygon points="496.7,395.6 860.0,251.1 860.0,251.9 497.3,396.2" fill="#c7c9c3" stroke="#c7c9c3" stroke-width="0.5"/>
<polygon points="497.3,396.2 860.0,251.9 860.0,253.6 498.4,397.5" fill="#c4c6c0" stroke="#c4c6c0" stroke-width="0.5"/>
<polygon points="498.4,397.5 860.0,253.6 860.0,255.4 499.5,398.9" fill="#c1c3bd" stroke="#c1c3bd" stroke-width="0.5"/>
<polygon points="499.5,398.9 860.0,255.4 860.0,259.5 501.8,402.2" fill="#bfc1bb" stroke="#bfc1bb" stroke-width="0.5"/>
<polygon points="501.8,402.2 860.0,259.5 860.0,268.1 506.3,409.2" fill="#bdbfb9" stroke="#bdbfb9" stroke-width="0.5"/>
<polygon points="506.3,409.2 860.0,268.1 860.0,273.4 509.1,413.5" fill="#bcbeb8" stroke="#bcbeb8" stroke-width="0.5"/>
<polygon points="509.1,413.5 860.0,273.4 860.0,279.3 513.1,418.0" fill="#babcb6" stroke="#babcb6" stroke-width="0.5"/>
<polygon points="513.1,418.0 860.0,279.3 860.0,283.1 516.4,420.6" fill="#b9bbb5" stroke="#b9bbb5" stroke-width="0.5"/>
<polygon points="516.4,420.6 860.0,283.1 860.0,284.6 518.1,421.5" fill="#bcbeb8" stroke="#bcbeb8" stroke-width="0.5"/>
<polygon points="518.1,421.5 860.0,284.6 860.0,285.5 519.3,422.0" fill="#bec0ba" stroke="#bec0ba" stroke-width="0.5"/>
<polygon points="519.3,422.0 860.0,285.5 860.0,286.3 520.4,422.4" fill="#c0c2bc" stroke="#c0c2bc" stroke-width="0.5"/>
<polygon points="520.4,422.4 860.0,286.3 860.0,288.9 526.0,423.0" fill="#c2c4be" stroke="#c2c4be" stroke-width="0.5"/>
<polygon points="526.0,423.0 860.0,288.9 860.0,288.7 531.8,420.6" fill="#c2c4be" stroke="#c2c4be" stroke-width="0.5"/>
<polygon points="531.8,420.6 860.0,288.7 860.0,286.4 537.6,416.2" fill="#c2c4be" stroke="#c2c4be" stroke-width="0.5"/>
<polygon points="537.6,416.2 860.0,286.4 860.0,286.7 542.8,414.7" fill="#c2c4be" stroke="#c2c4be" stroke-width="0.5"/>
<polygon points="542.8,414.7 860.0,286.7 860.0,287.4 543.9,415.0" fill="#c5c7c1" stroke="#c5c7c1" stroke-width="0.5"/>
<polygon points="543.9,415.0 860.0,287.4 860.0,287.9 544.5,415.2" fill="#c7c9c3" stroke="#c7c9c3" stroke-width="0.5"/>
<polygon points="544.5,415.2 860.0,287.9 860.0,288.4 545.1,415.5" fill="#c9cbc5" stroke="#c9cbc5" stroke-width="0.5"/>
<polygon points="545.1,415.5 860.0,288.4 860.0,288.9 545.6,415.8" fill="#cccec8" stroke="#cccec8" stroke-width="0.5"/>
<polygon points="545.6,415.8 860.0,288.9 860.0,289.5 546.2,416.2" fill="#d0d2cc" stroke="#d0d2cc" stroke-width="0.5"/>
<polygon points="546.2,416.2 860.0,289.5 860.0,290.1 546.8,416.6" fill="#d5d7d1" stroke="#d5d7d1" stroke-width="0.5"/>
<polygon points="546.8,416.6 860.0,290.1 860.0,290.7 547.4,417.0" fill="#d9dbd5" stroke="#d9dbd5" stroke-width="0.5"/>
<polygon points="547.4,417.0 860.0,290.7 860.0,292.6 549.1,418.2" fill="#dcded8" stroke="#dcded8" stroke-width="0.5"/>
<polygon points="549.1,418.2 860.0,292.6 860.0,293.3 549.7,418.7" fill="#d8dad4" stroke="#d8dad4" stroke-width="0.5"/>
<polygon points="549.7,418.7 860.0,293.3 860.0,294.0 550.2,419.2" fill="#d3d5cf" stroke="#d3d5cf" stroke-width="0.5"/>
<polygon points="550.2,419.2 860.0,294.0 860.0,294.7 550.8,419.7" fill="#ced0ca" stroke="#ced0ca" stroke-width="0.5"/>
<polygon points="550.8,419.7 860.0,294.7 860.0,295.4 551.4,420.3" fill="#caccc6" stroke="#caccc6" stroke-width="0.5"/>
<polygon points="551.4,420.3 860.0,295.4 860.0,296.2 552.0,420.8" fill="#c7c9c3" stroke="#c7c9c3" stroke-width="0.5"/>
<polygon points="552.0,420.8 860.0,296.2 860.0,297.1 552.5,421.5" fill="#c5c7c1" stroke="#c5c7c1" stroke-width="0.5"/>
<polygon points="552.5,421.5 860.0,297.1 860.0,298.9 553.7,422.8" fill="#c3c5bf" stroke="#c3c5bf" stroke-width="0.5"/>
<polygon points="553.7,422.8 860.0,298.9 860.0,301.8 555.4,425.1" fill="#c0c2bc" stroke="#c0c2bc" stroke-width="0.5"/>
<polygon points="555.4,425.1 860.0,301.8 860.0,309.3 559.5,431.1" fill="#bec0ba" stroke="#bec0ba" stroke-width="0.5"/>
<polygon points="559.5,431.1 860.0,309.3 860.0,315.9 562.9,436.5" fill="#bdbfb9" stroke="#bdbfb9" stroke-width="0.5"/>
<polygon points="562.9,436.5 860.0,315.9 860.0,321.8 566.4,441.1" fill="#bbbdb7" stroke="#bbbdb7" stroke-width="0.5"/>
<polygon points="566.4,441.1 860.0,321.8 860.0,328.8 572.1,445.9" fill="#b9bbb5" stroke="#b9bbb5" stroke-width="0.5"/>
<polygon points="572.1,445.9 860.0,328.8 860.0,330.3 573.9,446.8" fill="#bcbeb8" stroke="#bcbeb8" stroke-width="0.5"/>
<polygon points="573.9,446.8 860.0,330.3 860.0,331.2 575.0,447.3" fill="#bec0ba" stroke="#bec0ba" stroke-width="0.5"/>
<polygon points="575.0,447.3 860.0,331.2 860.0,332.0 576.2,447.6" fill="#c0c2bc" stroke="#c0c2bc" stroke-width="0.5"/>
<polygon points="576.2,447.6 860.0,332.0 860.0,334.7 582.0,448.1" fill="#c2c4be" stroke="#c2c4be" stroke-width="0.5"/>
<polygon points="582.0,448.1 860.0,334.7 860.0,334.2 587.8,445.5" fill="#c2c4be" stroke="#c2c4be" stroke-width="0.5"/>
<polygon points="587.8,445.5 860.0,334.2 860.0,332.1 593.7,441.1" fill="#c2c4be" stroke="#c2c4be" stroke-width="0.5"/>
<polygon points="593.7,441.1 860.0,332.1 860.0,332.6 598.4,439.9" fill="#c2c4be" stroke="#c2c4be" stroke-width="0.5"/>
<polygon points="598.4,439.9 860.0,332.6 860.0,333.4 599.6,440.2" fill="#c5c7c1" stroke="#c5c7c1" stroke-width="0.5"/>
<polygon points="599.6,440.2 860.0,333.4 860.0,333.8 600.2,440.4" fill="#c7c9c3" stroke="#c7c9c3" stroke-width="0.5"/>
<polygon points="600.2,440.4 860.0,333.8 860.0,334.3 600.8,440.7" fill="#c9cbc5" stroke="#c9cbc5" stroke-width="0.5"/>
<polygon points="600.8,440.7 860.0,334.3 860.0,334.9 601.4,441.0" fill="#cccec8" stroke="#cccec8" stroke-width="0.5"/>
<polygon points="601.4,441.0 860.0,334.9 860.0,335.5 602.0,441.4" fill="#d0d2cc" stroke="#d0d2cc" stroke-width="0.5"/>
<polygon points="602.0,441.4 860.0,335.5 860.0,336.1 602.6,441.8" fill="#d4d6d0" stroke="#d4d6d0" stroke-width="0.5"/>
<polygon points="602.6,441.8 860.0,336.1 860.0,336.7 603.2,442.2" fill="#d9dbd5" stroke="#d9dbd5" stroke-width="0.5"/>
<polygon points="603.2,442.2 860.0,336.7 860.0,338.7 604.9,443.5" fill="#dcded8" stroke="#dcded8" stroke-width="0.5"/>
<polygon points="604.9,443.5 860.0,338.7 860.0,339.3 605.5,443.9" fill="#d8dad4" stroke="#d8dad4" stroke-width="0.5"/>
<polygon points="605.5,443.9 860.0,339.3 860.0,340.0 606.1,444.4" fill="#d3d5cf" stroke="#d3d5cf" stroke-width="0.5"/>
<polygon points="606.1,444.4 860.0,340.0 860.0,340.8 606.7,444.9" fill="#cfd1cb" stroke="#cfd1cb" stroke-width="0.5"/>
<polygon points="606.7,444.9 860.0,340.8 860.0,341.5 607.3,445.5" fill="#cbcdc7" stroke="#cbcdc7" stroke-width="0.5"/>
<polygon points="607.3,445.5 860.0,341.5 860.0,342.3 607.9,446.0" fill="#c8cac4" stroke="#c8cac4" stroke-width="0.5"/>
<polygon points="607.9,446.0 860.0,342.3 860.0,343.2 608.5,446.7" fill="#c5c7c1" stroke="#c5c7c1" stroke-width="0.5"/>
<polygon points="608.5,446.7 860.0,343.2 860.0,345.0 609.6,448.0" fill="#c3c5bf" stroke="#c3c5bf" stroke-width="0.5"/>
<polygon points="609.6,448.0 860.0,345.0 860.0,347.0 610.8,449.5" fill="#c1c3bd" stroke="#c1c3bd" stroke-width="0.5"/>
<polygon points="610.8,449.5 860.0,347.0 860.0,351.1 613.2,452.8" fill="#bfc1bb" stroke="#bfc1bb" stroke-width="0.5"/>
<polygon points="613.2,452.8 860.0,351.1 860.0,361.1 618.5,460.7" fill="#bdbfb9" stroke="#bdbfb9" stroke-width="0.5"/>
<polygon points="618.5,460.7 860.0,361.1 860.0,366.4 621.4,464.9" fill="#bbbdb7" stroke="#bbbdb7" stroke-width="0.5"/>
<polygon points="621.4,464.9 860.0,366.4 860.0,374.5 627.3,470.7" fill="#b9bbb5" stroke="#b9bbb5" stroke-width="0.5"/>
<polygon points="627.3,470.7 860.0,374.5 860.0,376.3 629.1,471.8" fill="#babcb6" stroke="#babcb6" stroke-width="0.5"/>
<polygon points="629.1,471.8 860.0,376.3 860.0,377.8 630.8,472.6" fill="#bcbeb8" stroke="#bcbeb8" stroke-width="0.5"/>
<polygon points="630.8,472.6 860.0,377.8 860.0,378.7 632.0,473.1" fill="#bec0ba" stroke="#bec0ba" stroke-width="0.5"/>
<polygon points="632.0,473.1 860.0,378.7 860.0,379.4 633.2,473.4" fill="#c0c2bc" stroke="#c0c2bc" stroke-width="0.5"/>
<polygon points="633.2,473.4 860.0,379.4 860.0,382.2 639.1,473.9" fill="#c2c4be" stroke="#c2c4be" stroke-width="0.5"/>
<polygon points="639.1,473.9 860.0,382.2 860.0,381.6 645.2,470.8" fill="#c2c4be" stroke="#c2c4be" stroke-width="0.5"/>
<polygon points="645.2,470.8 860.0,381.6 860.0,379.6 651.3,466.5" fill="#c2c4be" stroke="#c2c4be" stroke-width="0.5"/>
<polygon points="651.3,466.5 860.0,379.6 860.0,380.4 655.5,465.6" fill="#c3c5bf" stroke="#c3c5bf" stroke-width="0.5"/>
<polygon points="655.5,465.6 860.0,380.4 860.0,381.1 656.7,465.9" fill="#c5c7c1" stroke="#c5c7c1" stroke-width="0.5"/>
<polygon points="656.7,465.9 860.0,381.1 860.0,381.6 657.3,466.1" fill="#c7c9c3" stroke="#c7c9c3" stroke-width="0.5"/>
<polygon points="657.3,466.1 860.0,381.6 860.0,382.1 657.9,466.4" fill="#c9cbc5" stroke="#c9cbc5" stroke-width="0.5"/>
<polygon points="657.9,466.4 860.0,382.1 860.0,382.7 658.5,466.8" fill="#cccec8" stroke="#cccec8" stroke-width="0.5"/>
<polygon points="658.5,466.8 860.0,382.7 860.0,383.3 659.1,467.1" fill="#d0d2cc" stroke="#d0d2cc" stroke-width="0.5"/>
<polygon points="659.1,467.1 860.0,383.3 860.0,383.9 659.7,467.5" fill="#d4d6d0" stroke="#d4d6d0" stroke-width="0.5"/>
<polygon points="659.7,467.5 860.0,383.9 860.0,384.6 660.3,467.9" fill="#d8dad4" stroke="#d8dad4" stroke-width="0.5"/>
<polygon points="660.3,467.9 860.0,384.6 860.0,386.6 662.2,469.2" fill="#dcded8" stroke="#dcded8" stroke-width="0.5"/>
<polygon points="662.2,469.2 860.0,386.6 860.0,387.3 662.8,469.7" fill="#d8dad4" stroke="#d8dad4" stroke-width="0.5"/>
<polygon points="662.8,469.7 860.0,387.3 860.0,388.0 663.4,470.1" fill="#d4d6d0" stroke="#d4d6d0" stroke-width="0.5"/>
<polygon points="663.4,470.1 860.0,388.0 860.0,388.8 664.0,470.7" fill="#cfd1cb" stroke="#cfd1cb" stroke-width="0.5"/>
<polygon points="664.0,470.7 860.0,388.8 860.0,389.5 664.6,471.2" fill="#cbcdc7" stroke="#cbcdc7" stroke-width="0.5"/>
<polygon points="664.6,471.2 860.0,389.5 860.0,390.4 665.2,471.8" fill="#c8cac4" stroke="#c8cac4" stroke-width="0.5"/>
<polygon points="665.2,471.8 860.0,390.4 860.0,391.2 665.8,472.4" fill="#c6c8c2" stroke="#c6c8c2" stroke-width="0.5"/>
<polygon points="665.8,472.4 860.0,391.2 860.0,393.1 667.0,473.8" fill="#c3c5bf" stroke="#c3c5bf" stroke-width="0.5"/>
<polygon points="667.0,473.8 860.0,393.1 860.0,395.0 668.2,475.3" fill="#c1c3bd" stroke="#c1c3bd" stroke-width="0.5"/>
<polygon points="668.2,475.3 860.0,395.0 860.0,399.3 670.6,478.5" fill="#bfc1bb" stroke="#bfc1bb" stroke-width="0.5"/>
<polygon points="670.6,478.5 860.0,399.3 860.0,409.4 676.1,486.5" fill="#bdbfb9" stroke="#bdbfb9" stroke-width="0.5"/>
<polygon points="676.1,486.5 860.0,409.4 860.0,415.0 679.1,490.8" fill="#bbbdb7" stroke="#bbbdb7" stroke-width="0.5"/>
<polygon points="679.1,490.8 860.0,415.0 860.0,421.4 683.4,495.6" fill="#babcb6" stroke="#babcb6" stroke-width="0.5"/>
<polygon points="683.4,495.6 860.0,421.4 860.0,425.4 687.0,498.1" fill="#b9bbb5" stroke="#b9bbb5" stroke-width="0.5"/>
<polygon points="687.0,498.1 860.0,425.4 860.0,427.0 688.8,499.0" fill="#bbbdb7" stroke="#bbbdb7" stroke-width="0.5"/>
<polygon points="688.8,499.0 860.0,427.0 860.0,427.9 690.0,499.4" fill="#bdbfb9" stroke="#bdbfb9" stroke-width="0.5"/>
<polygon points="690.0,499.4 860.0,427.9 860.0,428.7 691.3,499.8" fill="#bfc1bb" stroke="#bfc1bb" stroke-width="0.5"/>
<polygon points="691.3,499.8 860.0,428.7 860.0,431.9 697.4,500.4" fill="#c2c4be" stroke="#c2c4be" stroke-width="0.5"/>
<polygon points="697.4,500.4 860.0,431.9 860.0,431.4 703.6,497.4" fill="#c2c4be" stroke="#c2c4be" stroke-width="0.5"/>
<polygon points="703.6,497.4 860.0,431.4 860.0,429.5 709.8,493.1" fill="#c2c4be" stroke="#c2c4be" stroke-width="0.5"/>
<polygon points="709.8,493.1 860.0,429.5 860.0,430.4 714.1,492.1" fill="#c3c5bf" stroke="#c3c5bf" stroke-width="0.5"/>
<polygon points="714.1,492.1 860.0,430.4 860.0,431.1 715.3,492.4" fill="#c5c7c1" stroke="#c5c7c1" stroke-width="0.5"/>
<polygon points="715.3,492.4 860.0,431.1 860.0,431.6 716.0,492.7" fill="#c7c9c3" stroke="#c7c9c3" stroke-width="0.5"/>
<polygon points="716.0,492.7 860.0,431.6 860.0,432.2 716.6,492.9" fill="#c9cbc5" stroke="#c9cbc5" stroke-width="0.5"/>
<polygon points="716.6,492.9 860.0,432.2 860.0,432.7 717.2,493.3" fill="#cccec8" stroke="#cccec8" stroke-width="0.5"/>
<polygon points="717.2,493.3 860.0,432.7 860.0,433.4 717.8,493.6" fill="#d0d2cc" stroke="#d0d2cc" stroke-width="0.5"/>
<polygon points="717.8,493.6 860.0,433.4 860.0,434.0 718.4,494.0" fill="#d4d6d0" stroke="#d4d6d0" stroke-width="0.5"/>
<polygon points="718.4,494.0 860.0,434.0 860.0,434.7 719.1,494.4" fill="#d8dad4" stroke="#d8dad4" stroke-width="0.5"/>
<polygon points="719.1,494.4 860.0,434.7 860.0,436.7 720.9,495.7" fill="#dcded8" stroke="#dcded8" stroke-width="0.5"/>
<polygon points="720.9,495.7 860.0,436.7 860.0,437.4 721.5,496.2" fill="#d9dbd5" stroke="#d9dbd5" stroke-width="0.5"/>
<polygon points="721.5,496.2 860.0,437.4 860.0,438.2 722.2,496.7" fill="#d4d6d0" stroke="#d4d6d0" stroke-width="0.5"/>
<polygon points="722.2,496.7 860.0,438.2 860.0,438.9 722.8,497.2" fill="#d0d2cc" stroke="#d0d2cc" stroke-width="0.5"/>
<polygon points="722.8,497.2 860.0,438.9 860.0,439.7 723.4,497.7" fill="#cccec8" stroke="#cccec8" stroke-width="0.5"/>
<polygon points="723.4,497.7 860.0,439.7 860.0,440.5 724.0,498.3" fill="#c8cac4" stroke="#c8cac4" stroke-width="0.5"/>
<polygon points="724.0,498.3 860.0,440.5 860.0,441.4 724.6,498.9" fill="#c6c8c2" stroke="#c6c8c2" stroke-width="0.5"/>
<polygon points="724.6,498.9 860.0,441.4 860.0,443.3 725.9,500.2" fill="#c3c5bf" stroke="#c3c5bf" stroke-width="0.5"/>
<polygon points="725.9,500.2 860.0,443.3 860.0,445.3 727.1,501.7" fill="#c1c3bd" stroke="#c1c3bd" stroke-width="0.5"/>
<polygon points="727.1,501.7 860.0,445.3 860.0,449.5 729.6,505.0" fill="#bfc1bb" stroke="#bfc1bb" stroke-width="0.5"/>
<polygon points="729.6,505.0 860.0,449.5 860.0,459.7 735.2,512.9" fill="#bdbfb9" stroke="#bdbfb9" stroke-width="0.5"/>
<polygon points="735.2,512.9 860.0,459.7 860.0,465.5 738.3,517.4" fill="#bcbeb8" stroke="#bcbeb8" stroke-width="0.5"/>
<polygon points="738.3,517.4 860.0,465.5 860.0,472.3 742.6,522.4" fill="#babcb6" stroke="#babcb6" stroke-width="0.5"/>
<polygon points="742.6,522.4 860.0,472.3 860.0,477.1 746.9,525.4" fill="#b9bbb5" stroke="#b9bbb5" stroke-width="0.5"/>
<polygon points="746.9,525.4 860.0,477.1 860.0,478.6 748.8,526.2" fill="#bbbdb7" stroke="#bbbdb7" stroke-width="0.5"/>
<polygon points="748.8,526.2 860.0,478.6 860.0,479.5 750.0,526.6" fill="#bdbfb9" stroke="#bdbfb9" stroke-width="0.5"/>
<polygon points="750.0,526.6 860.0,479.5 860.0,480.4 751.3,526.9" fill="#bfc1bb" stroke="#bfc1bb" stroke-width="0.5"/>
<polygon points="751.3,526.9 860.0,480.4 860.0,483.5 757.5,527.4" fill="#c2c4be" stroke="#c2c4be" stroke-width="0.5"/>
<polygon points="757.5,527.4 860.0,483.5 860.0,482.7 763.9,523.9" fill="#c2c4be" stroke="#c2c4be" stroke-width="0.5"/>
<polygon points="763.9,523.9 860.0,482.7 860.0,481.1 770.2,519.7" fill="#c2c4be" stroke="#c2c4be" stroke-width="0.5"/>
<polygon points="770.2,519.7 860.0,481.1 860.0,481.7 773.4,519.0" fill="#c2c4be" stroke="#c2c4be" stroke-width="0.5"/>
<polygon points="773.4,519.0 860.0,481.7 860.0,482.4 774.6,519.1" fill="#c4c6c0" stroke="#c4c6c0" stroke-width="0.5"/>
<polygon points="774.6,519.1 860.0,482.4 860.0,482.8 775.3,519.3" fill="#c6c8c2" stroke="#c6c8c2" stroke-width="0.5"/>
<polygon points="775.3,519.3 860.0,482.8 860.0,483.3 775.9,519.5" fill="#c7c9c3" stroke="#c7c9c3" stroke-width="0.5"/>
<polygon points="775.9,519.5 860.0,483.3 860.0,483.9 776.5,519.8" fill="#caccc6" stroke="#caccc6" stroke-width="0.5"/>
<polygon points="776.5,519.8 860.0,483.9 860.0,484.5 777.2,520.2" fill="#cccec8" stroke="#cccec8" stroke-width="0.5"/>
<polygon points="777.2,520.2 860.0,484.5 860.0,485.1 777.8,520.5" fill="#d0d2cc" stroke="#d0d2cc" stroke-width="0.5"/>
<polygon points="777.8,520.5 860.0,485.1 860.0,485.8 778.4,520.9" fill="#d4d6d0" stroke="#d4d6d0" stroke-width="0.5"/>
<polygon points="778.4,520.9 860.0,485.8 860.0,486.5 779.1,521.4" fill="#d9dbd5" stroke="#d9dbd5" stroke-width="0.5"/>
<polygon points="779.1,521.4 860.0,486.5 860.0,488.6 781.0,522.7" fill="#dcded8" stroke="#dcded8" stroke-width="0.5"/>
<polygon points="781.0,522.7 860.0,488.6 860.0,489.4 781.6,523.1" fill="#d9dbd5" stroke="#d9dbd5" stroke-width="0.5"/>
<polygon points="781.6,523.1 860.0,489.4 860.0,490.1 782.3,523.6" fill="#d4d6d0" stroke="#d4d6d0" stroke-width="0.5"/>
<polygon points="782.3,523.6 860.0,490.1 860.0,490.9 782.9,524.1" fill="#d0d2cc" stroke="#d0d2cc" stroke-width="0.5"/>
<polygon points="782.9,524.1 860.0,490.9 860.0,491.7 783.5,524.7" fill="#cccec8" stroke="#cccec8" stroke-width="0.5"/>
<polygon points="783.5,524.7 860.0,491.7 860.0,492.6 784.2,525.3" fill="#c8cac4" stroke="#c8cac4" stroke-width="0.5"/>
<polygon points="784.2,525.3 860.0,492.6 860.0,493.5 784.8,525.9" fill="#c6c8c2" stroke="#c6c8c2" stroke-width="0.5"/>
<polygon points="784.8,525.9 860.0,493.5 860.0,495.4 786.1,527.3" fill="#c3c5bf" stroke="#c3c5bf" stroke-width="0.5"/>
<polygon points="786.1,527.3 860.0,495.4 860.0,497.4 787.3,528.8" fill="#c1c3bd" stroke="#c1c3bd" stroke-width="0.5"/>
<polygon points="787.3,528.8 860.0,497.4 860.0,501.9 789.9,532.2" fill="#bfc1bb" stroke="#bfc1bb" stroke-width="0.5"/>
<polygon points="789.9,532.2 860.0,501.9 860.0,512.4 795.6,540.2" fill="#bdbfb9" stroke="#bdbfb9" stroke-width="0.5"/>
<polygon points="795.6,540.2 860.0,512.4 860.0,518.3 798.7,544.8" fill="#bcbeb8" stroke="#bcbeb8" stroke-width="0.5"/>
<polygon points="798.7,544.8 860.0,518.3 860.0,525.3 803.2,549.9" fill="#babcb6" stroke="#babcb6" stroke-width="0.5"/>
<polygon points="803.2,549.9 860.0,525.3 860.0,530.2 807.6,553.0" fill="#b9bbb5" stroke="#b9bbb5" stroke-width="0.5"/>
<polygon points="807.6,553.0 860.0,530.2 860.0,531.9 809.5,553.8" fill="#bbbdb7" stroke="#bbbdb7" stroke-width="0.5"/>
<polygon points="809.5,553.8 860.0,531.9 860.0,532.8 810.8,554.2" fill="#bdbfb9" stroke="#bdbfb9" stroke-width="0.5"/>
<polygon points="810.8,554.2 860.0,532.8 860.0,533.7 812.0,554.5" fill="#bfc1bb" stroke="#bfc1bb" stroke-width="0.5"/>
<polygon points="812.0,554.5 860.0,533.7 860.0,537.0 818.4,555.1" fill="#c2c4be" stroke="#c2c4be" stroke-width="0.5"/>
<polygon points="818.4,555.1 860.0,537.0 860.0,537.1 822.3,553.5" fill="#c2c4be" stroke="#c2c4be" stroke-width="0.5"/>
</g>
<g filter="url(#glowblur)">
<polygon points="135.2,228.0 138.4,227.6 140.5,228.5 142.3,230.8 144.2,233.2 146.1,236.1 536.1,103.1 534.2,100.6 532.3,98.5 530.5,96.7 528.4,96.1 525.2,96.5" fill="url(#gl1)"/>
<polygon points="148.3,239.5 150.3,242.7 152.3,246.0 154.3,249.1 156.3,252.0 158.3,254.4 548.3,118.7 546.3,116.7 544.3,114.3 542.3,111.7 540.3,108.9 538.3,106.0" fill="url(#gd1)"/>
<polygon points="184.3,253.0 186.2,253.7 188.1,254.9 190.0,256.4 191.9,258.3 193.7,260.6 583.7,121.1 581.9,118.9 580.0,117.1 578.1,115.7 576.2,114.6 574.3,114.0" fill="url(#gl2)"/>
<polygon points="195.8,263.7 197.7,266.9 199.6,270.1 201.5,273.2 203.4,275.9 205.3,277.9 595.3,137.8 593.4,135.9 591.5,133.3 589.6,130.3 587.7,127.2 585.8,124.1" fill="url(#gd2)"/>
<polygon points="232.4,274.5 234.3,275.3 236.2,276.5 238.2,278.1 240.1,280.0 242.0,282.4 632.0,140.3 630.1,138.0 628.2,136.2 626.2,134.7 624.3,133.6 622.4,133.0" fill="url(#gl3)"/>
<polygon points="244.1,285.6 246.1,288.8 248.0,292.2 250.0,295.3 251.9,298.1 253.9,300.1 643.9,157.4 641.9,155.4 640.0,152.8 638.0,149.7 636.1,146.5 634.1,143.3" fill="url(#gd3)"/>
<polygon points="281.4,296.6 283.4,297.3 285.4,298.6 287.4,300.2 289.3,302.1 291.3,304.6 681.3,159.9 679.3,157.5 677.4,155.7 675.4,154.2 673.4,153.0 671.4,152.4" fill="url(#gl4)"/>
<polygon points="293.5,307.8 295.5,311.2 297.5,314.6 299.5,317.9 301.5,320.7 303.5,322.8 693.5,177.4 691.5,175.4 689.5,172.7 687.5,169.6 685.5,166.2 683.5,163.0" fill="url(#gd4)"/>
<polygon points="331.5,319.1 333.5,319.8 335.6,321.1 337.6,322.8 339.6,324.8 341.6,327.3 731.6,180.0 729.6,177.5 727.6,175.6 725.6,174.1 723.5,172.9 721.5,172.2" fill="url(#gl5)"/>
<polygon points="343.9,330.7 346.0,334.2 348.0,337.7 350.1,341.1 352.2,343.9 354.3,346.0 744.3,198.0 742.2,196.0 740.1,193.3 738.0,190.1 736.0,186.6 733.9,183.2" fill="url(#gd5)"/>
<polygon points="382.6,342.2 384.7,343.0 386.8,344.3 388.9,346.0 391.0,348.0 393.1,350.6 783.1,200.6 781.0,198.2 778.9,196.2 776.8,194.7 774.7,193.4 772.6,192.8" fill="url(#gl6)"/>
<polygon points="395.4,354.1 397.6,357.6 399.8,361.3 402.0,364.7 404.2,367.6 406.4,369.8 796.4,219.1 794.2,217.1 792.0,214.3 789.8,211.0 787.6,207.4 785.4,204.0" fill="url(#gd6)"/>
<polygon points="434.8,365.9 437.0,366.6 439.2,368.0 441.4,369.7 443.5,371.8 445.7,374.4 835.7,221.8 833.5,219.3 831.4,217.3 829.2,215.7 827.0,214.4 824.8,213.8" fill="url(#gl7)"/>
<polygon points="448.1,378.0 450.4,381.6 452.7,385.3 455.0,388.8 457.2,391.7 459.5,394.0 849.5,240.7 847.2,238.6 845.0,235.8 842.7,232.4 840.4,228.8 838.1,225.2" fill="url(#gd7)"/>
<polygon points="488.2,390.0 490.4,390.8 492.7,392.2 494.9,393.9 497.2,396.0 499.4,398.7 889.4,243.5 887.2,240.9 884.9,238.9 882.7,237.3 880.4,236.0 878.2,235.3" fill="url(#gl8)"/>
<polygon points="501.9,402.3 504.3,406.1 506.7,409.8 509.1,413.4 511.5,416.4 513.8,418.7 903.8,262.8 901.5,260.6 899.1,257.7 896.7,254.2 894.3,250.6 891.9,247.0" fill="url(#gd8)"/>
<polygon points="542.6,414.7 545.0,415.5 547.3,416.9 549.6,418.7 552.0,420.8 554.3,423.6 944.3,265.7 942.0,263.1 939.6,261.0 937.3,259.4 935.0,258.0 932.6,257.4" fill="url(#gl9)"/>
<polygon points="556.9,427.3 559.4,431.0 561.9,434.9 564.3,438.5 566.8,441.6 569.3,444.0 959.3,285.4 956.8,283.2 954.3,280.2 951.9,276.6 949.4,272.9 946.9,269.3" fill="url(#gd9)"/>
<polygon points="598.3,439.9 600.7,440.7 603.1,442.2 605.5,444.0 608.0,446.1 610.4,448.9 1000.4,288.5 998.0,285.8 995.5,283.7 993.1,282.0 990.7,280.6 988.3,280.0" fill="url(#gl10)"/>
<polygon points="613.1,452.7 615.7,456.5 618.3,460.4 620.8,464.2 623.4,467.4 626.0,469.8 1016.0,308.6 1013.4,306.3 1010.8,303.2 1008.3,299.6 1005.7,295.8 1003.1,292.1" fill="url(#gd10)"/>
<polygon points="655.3,465.6 657.9,466.4 660.4,467.9 662.9,469.8 665.4,472.0 667.9,474.9 1057.9,311.8 1055.4,309.0 1052.9,306.9 1050.4,305.2 1047.9,303.7 1045.3,303.1" fill="url(#gl11)"/>
<polygon points="670.8,478.8 673.5,482.6 676.2,486.6 678.9,490.5 681.6,493.8 684.3,496.4 1074.3,332.5 1071.6,330.1 1068.9,326.9 1066.2,323.1 1063.5,319.3 1060.8,315.5" fill="url(#gd11)"/>
<polygon points="713.9,492.1 716.5,492.9 719.1,494.5 721.7,496.3 724.3,498.6 726.9,501.5 1116.9,335.8 1114.3,332.9 1111.7,330.8 1109.1,329.1 1106.5,327.6 1103.9,327.0" fill="url(#gl12)"/>
<polygon points="729.9,505.4 732.7,509.3 735.5,513.4 738.2,517.4 741.0,520.8 743.8,523.4 1133.8,356.9 1131.0,354.4 1128.2,351.1 1125.5,347.2 1122.7,343.3 1119.9,339.6" fill="url(#gd12)"/>
<polygon points="773.8,519.0 776.4,519.8 779.1,521.4 781.8,523.3 784.5,525.6 787.1,528.6 1177.1,360.2 1174.5,357.3 1171.8,355.1 1169.1,353.4 1166.4,351.9 1163.8,351.2" fill="url(#gl13)"/>
<polygon points="790.2,532.6 793.1,536.6 795.9,540.8 798.8,544.9 801.6,548.4 804.5,551.0 1194.5,381.9 1191.6,379.4 1188.8,376.0 1185.9,372.0 1183.1,368.0 1180.2,364.1" fill="url(#gd13)"/>
</g>
<path d="M130.1,229.1 L131.5,228.7 L132.9,228.4 L134.3,228.1 L135.8,227.9 L137.4,227.7 L138.8,227.6 L139.8,227.9 L140.7,228.8 L141.6,229.9 L142.5,231.0 L143.4,232.1 L144.4,233.4 L145.3,234.8 L146.2,236.3 L147.2,237.7 L148.1,239.2 L149.1,240.7 L150.0,242.3 L150.9,243.8 L151.9,245.3 L152.8,246.8 L153.8,248.3 L154.7,249.7 L155.6,251.0 L156.6,252.3 L157.5,253.5 L158.4,254.6 L159.3,255.5 L160.2,256.5 L161.1,257.3 L162.0,258.0 L162.8,258.7 L163.7,259.3 L164.5,259.9 L165.2,260.4 L166.0,260.6 L166.7,260.7 L167.4,260.8 L168.1,260.9 L168.8,260.9 L169.7,260.7 L170.7,260.5 L171.6,260.1 L172.6,259.7 L173.6,259.1 L174.5,258.5 L175.5,257.8 L176.4,257.0 L177.4,256.2 L178.3,255.4 L179.3,254.7 L180.2,254.0 L181.2,253.5 L182.2,253.1 L183.1,252.9 L184.1,252.9 L185.0,253.1 L186.0,253.5 L186.9,254.1 L187.9,254.7 L188.8,255.5 L189.8,256.3 L190.8,257.1 L191.7,258.1 L192.7,259.2 L193.6,260.5 L194.6,261.8 L195.5,263.3 L196.5,264.8 L197.4,266.4 L198.4,268.1 L199.4,269.7 L200.3,271.3 L201.3,272.9 L202.2,274.3 L203.2,275.6 L204.1,276.8 L205.1,277.8 L206.0,278.6 L207.0,279.3 L207.9,280.0 L208.9,280.6 L209.9,281.1 L210.8,281.6 L211.8,282.0 L212.7,282.3 L213.7,282.5 L214.6,282.7 L215.6,282.7 L216.5,282.7 L217.5,282.5 L218.5,282.2 L219.5,281.9 L220.4,281.4 L221.4,280.8 L222.4,280.2 L223.4,279.4 L224.3,278.7 L225.3,277.8 L226.3,277.0 L227.3,276.3 L228.2,275.6 L229.2,275.1 L230.2,274.7 L231.2,274.5 L232.1,274.5 L233.1,274.7 L234.1,275.1 L235.1,275.7 L236.0,276.4 L237.0,277.1 L238.0,277.9 L239.0,278.8 L239.9,279.8 L240.9,280.9 L241.9,282.2 L242.9,283.6 L243.8,285.1 L244.8,286.7 L245.8,288.3 L246.8,290.0 L247.7,291.7 L248.7,293.3 L249.7,294.9 L250.7,296.4 L251.6,297.7 L252.6,298.9 L253.6,299.9 L254.6,300.7 L255.5,301.5 L256.5,302.1 L257.5,302.7 L258.5,303.3 L259.4,303.8 L260.4,304.2 L261.4,304.5 L262.4,304.7 L263.3,304.9 L264.3,304.9 L265.3,304.9 L266.3,304.7 L267.3,304.4 L268.3,304.0 L269.3,303.6 L270.3,303.0 L271.3,302.3 L272.3,301.6 L273.2,300.8 L274.2,299.9 L275.2,299.1 L276.2,298.4 L277.2,297.7 L278.2,297.1 L279.2,296.7 L280.2,296.5 L281.2,296.5 L282.2,296.8 L283.2,297.2 L284.2,297.8 L285.2,298.4 L286.2,299.2 L287.2,300.0 L288.2,300.9 L289.2,302.0 L290.2,303.1 L291.2,304.4 L292.2,305.8 L293.1,307.3 L294.1,309.0 L295.1,310.6 L296.1,312.3 L297.1,314.0 L298.1,315.7 L299.1,317.3 L300.1,318.8 L301.1,320.2 L302.1,321.4 L303.1,322.4 L304.1,323.3 L305.1,324.1 L306.1,324.7 L307.1,325.4 L308.1,325.9 L309.1,326.4 L310.1,326.8 L311.1,327.2 L312.1,327.4 L313.1,327.5 L314.0,327.6 L315.0,327.5 L316.1,327.3 L317.1,327.1 L318.1,326.7 L319.1,326.2 L320.1,325.6 L321.1,324.9 L322.2,324.2 L323.2,323.3 L324.2,322.5 L325.2,321.7 L326.2,320.9 L327.2,320.2 L328.2,319.6 L329.3,319.2 L330.3,319.0 L331.3,319.0 L332.3,319.3 L333.3,319.7 L334.3,320.3 L335.4,321.0 L336.4,321.7 L337.4,322.6 L338.4,323.5 L339.4,324.6 L340.4,325.7 L341.5,327.0 L342.5,328.5 L343.5,330.0 L344.5,331.7 L345.5,333.4 L346.5,335.1 L347.5,336.9 L348.6,338.6 L349.6,340.3 L350.6,341.8 L351.6,343.2 L352.6,344.4 L353.6,345.4 L354.7,346.3 L355.7,347.1 L356.7,347.8 L357.7,348.4 L358.7,349.0 L359.7,349.5 L360.8,349.9 L361.8,350.3 L362.8,350.5 L363.8,350.7 L364.8,350.7 L365.8,350.6 L366.9,350.5 L367.9,350.3 L368.9,349.9 L370.0,349.4 L371.0,348.9 L372.1,348.2 L373.1,347.4 L374.1,346.6 L375.2,345.7 L376.2,344.9 L377.2,344.1 L378.3,343.4 L379.3,342.8 L380.4,342.4 L381.4,342.2 L382.4,342.2 L383.5,342.4 L384.5,342.8 L385.5,343.4 L386.6,344.1 L387.6,344.9 L388.7,345.8 L389.7,346.7 L390.7,347.7 L391.8,348.9 L392.8,350.2 L393.8,351.6 L394.9,353.2 L395.9,354.8 L397.0,356.5 L398.0,358.3 L399.0,360.0 L400.1,361.7 L401.1,363.4 L402.1,364.9 L403.2,366.4 L404.2,367.6 L405.2,368.7 L406.3,369.7 L407.3,370.5 L408.4,371.3 L409.4,371.9 L410.4,372.5 L411.5,373.0 L412.5,373.5 L413.5,373.8 L414.6,374.1 L415.6,374.2 L416.7,374.3 L417.7,374.3 L418.8,374.2 L419.8,373.9 L420.9,373.6 L421.9,373.2 L423.0,372.6 L424.1,371.9 L425.1,371.1 L426.2,370.3 L427.2,369.4 L428.3,368.5 L429.3,367.7 L430.4,367.0 L431.5,366.5 L432.5,366.1 L433.6,365.8 L434.6,365.8 L435.7,366.1 L436.8,366.5 L437.8,367.1 L438.9,367.8 L439.9,368.6 L441.0,369.4 L442.1,370.3 L443.1,371.4 L444.2,372.5 L445.2,373.8 L446.3,375.3 L447.4,376.8 L448.4,378.4 L449.5,380.1 L450.5,381.8 L451.6,383.6 L452.7,385.3 L453.7,387.0 L454.8,388.6 L455.8,390.0 L456.9,391.3 L458.0,392.5 L459.0,393.5 L460.1,394.4 L461.1,395.2 L462.2,395.9 L463.3,396.5 L464.3,397.0 L465.4,397.5 L466.4,397.8 L467.5,398.1 L468.5,398.3 L469.6,398.4 L470.7,398.4 L471.7,398.3 L472.8,398.1 L473.9,397.8 L475.0,397.4 L476.1,396.9 L477.2,396.2 L478.2,395.3 L479.3,394.5 L480.4,393.6 L481.5,392.7 L482.6,391.9 L483.7,391.2 L484.7,390.6 L485.8,390.2 L486.9,390.0 L488.0,390.0 L489.1,390.2 L490.1,390.6 L491.2,391.2 L492.3,392.0 L493.4,392.7 L494.5,393.6 L495.6,394.5 L496.6,395.5 L497.7,396.7 L498.8,398.0 L499.9,399.4 L501.0,400.9 L502.1,402.6 L503.1,404.2 L504.2,405.9 L505.3,407.7 L506.4,409.4 L507.5,411.1 L508.5,412.7 L509.6,414.2 L510.7,415.6 L511.8,416.8 L512.9,417.9 L514.0,418.8 L515.0,419.6 L516.1,420.4 L517.2,421.0 L518.3,421.6 L519.4,422.0 L520.5,422.4 L521.5,422.7 L522.6,422.9 L523.7,423.0 L524.8,423.0 L525.9,423.0 L527.0,422.8 L528.1,422.6 L529.2,422.2 L530.3,421.6 L531.4,420.9 L532.5,420.1 L533.6,419.2 L534.7,418.3 L535.8,417.4 L536.9,416.6 L538.1,415.9 L539.2,415.3 L540.3,414.9 L541.4,414.7 L542.5,414.7 L543.6,414.9 L544.7,415.3 L545.8,415.9 L546.9,416.6 L548.0,417.4 L549.1,418.3 L550.2,419.2 L551.3,420.2 L552.4,421.3 L553.5,422.6 L554.6,424.0 L555.7,425.6 L556.9,427.2 L558.0,428.9 L559.1,430.5 L560.2,432.3 L561.3,434.0 L562.4,435.7 L563.5,437.3 L564.6,438.9 L565.7,440.3 L566.8,441.6 L567.9,442.7 L569.0,443.7 L570.1,444.6 L571.2,445.4 L572.3,446.0 L573.4,446.6 L574.5,447.1 L575.7,447.5 L576.8,447.8 L577.9,448.0 L579.0,448.1 L580.1,448.2 L581.2,448.2 L582.3,448.1 L583.5,447.9 L584.6,447.5 L585.7,446.9 L586.9,446.2 L588.0,445.4 L589.1,444.5 L590.2,443.6 L591.4,442.7 L592.5,441.9 L593.6,441.2 L594.8,440.6 L595.9,440.1 L597.0,439.9 L598.2,439.9 L599.3,440.1 L600.4,440.5 L601.6,441.1 L602.7,441.9 L603.8,442.6 L604.9,443.5 L606.1,444.4 L607.2,445.4 L608.3,446.5 L609.5,447.8 L610.6,449.2 L611.7,450.8 L612.9,452.4 L614.0,454.0 L615.1,455.7 L616.2,457.4 L617.4,459.1 L618.5,460.8 L619.6,462.5 L620.8,464.1 L621.9,465.6 L623.0,466.9 L624.2,468.1 L625.3,469.2 L626.4,470.1 L627.5,470.9 L628.7,471.6 L629.8,472.2 L630.9,472.7 L632.1,473.1 L633.2,473.4 L634.3,473.6 L635.5,473.8 L636.6,473.9 L637.8,473.9 L638.9,473.9 L640.1,473.7 L641.2,473.4 L642.4,472.8 L643.6,472.1 L644.7,471.2 L645.9,470.3 L647.1,469.4 L648.2,468.5 L649.4,467.6 L650.6,466.9 L651.7,466.3 L652.9,465.9 L654.0,465.6 L655.2,465.6 L656.4,465.8 L657.5,466.2 L658.7,466.9 L659.9,467.6 L661.0,468.4 L662.2,469.2 L663.4,470.1 L664.5,471.1 L665.7,472.3 L666.8,473.6 L668.0,475.0 L669.2,476.5 L670.3,478.1 L671.5,479.7 L672.7,481.4 L673.8,483.1 L675.0,484.8 L676.2,486.6 L677.3,488.3 L678.5,489.9 L679.6,491.5 L680.8,492.9 L682.0,494.2 L683.1,495.3 L684.3,496.3 L685.5,497.2 L686.6,497.9 L687.8,498.5 L688.9,499.0 L690.1,499.4 L691.3,499.8 L692.4,500.0 L693.6,500.2 L694.8,500.3 L696.0,500.4 L697.1,500.4 L698.3,500.3 L699.5,500.0 L700.7,499.4 L701.9,498.7 L703.1,497.8 L704.3,496.9 L705.5,495.9 L706.7,495.0 L707.9,494.2 L709.0,493.4 L710.2,492.8 L711.4,492.4 L712.6,492.2 L713.8,492.1 L715.0,492.3 L716.2,492.8 L717.4,493.4 L718.6,494.1 L719.7,494.9 L720.9,495.8 L722.1,496.6 L723.3,497.6 L724.5,498.8 L725.7,500.0 L726.9,501.5 L728.1,503.0 L729.3,504.6 L730.5,506.2 L731.6,507.8 L732.8,509.5 L734.0,511.2 L735.2,513.0 L736.4,514.7 L737.6,516.5 L738.8,518.1 L740.0,519.6 L741.2,520.9 L742.3,522.1 L743.5,523.2 L744.7,524.1 L745.9,524.8 L747.1,525.5 L748.3,526.0 L749.5,526.4 L750.7,526.7 L751.9,527.0 L753.1,527.2 L754.2,527.4 L755.5,527.5 L756.7,527.5 L757.9,527.4 L759.1,527.0 L760.3,526.5 L761.5,525.7 L762.8,524.8 L764.0,523.8 L765.2,522.9 L766.4,521.9 L767.6,521.1 L768.8,520.3 L770.1,519.7 L771.3,519.3 L772.5,519.0 L773.7,519.0 L774.9,519.2 L776.1,519.6 L777.4,520.3 L778.6,521.0 L779.8,521.8 L781.0,522.7 L782.2,523.6 L783.4,524.6 L784.7,525.8 L785.9,527.1 L787.1,528.5 L788.3,530.1 L789.5,531.7 L790.7,533.4 L792.0,535.1 L793.2,536.8 L794.4,538.5 L795.6,540.3 L796.8,542.1 L798.0,543.9 L799.3,545.5 L800.5,547.1 L801.7,548.4 L802.9,549.7 L804.1,550.7 L805.3,551.7 L806.6,552.4 L807.8,553.1 L809.0,553.6 L810.2,554.0 L811.4,554.4" fill="none" stroke="#ffffff" stroke-opacity="0.15" stroke-width="11" stroke-linejoin="round" filter="url(#rimblur)"/>
<path d="M128,231.5 L345,157.2" fill="none" stroke="url(#tipfade)" stroke-width="17" filter="url(#rimblur)"/>
</g>
<g id="callouts">
<rect x="89" y="147.00" width="352" height="2.2" fill="#0d0d0d"/>
<rect x="139" y="267.80" width="104" height="2.2" fill="#0d0d0d"/>
<rect x="252.35" y="282" width="2.3" height="80" fill="#0d0d0d"/>
<rect x="310.05" y="308" width="2.3" height="221" fill="#0d0d0d"/>
<rect x="383.05" y="340" width="2.3" height="70" fill="#0d0d0d"/>
<rect x="489.75" y="388.5" width="2.3" height="102.5" fill="#0d0d0d"/>
<rect x="591.75" y="443.5" width="2.3" height="37.5" fill="#0d0d0d"/>
<rect x="685.55" y="454.5" width="2.3" height="96.5" fill="#0d0d0d"/>
<circle cx="68.1" cy="146.3" r="22.2" fill="#1c2149"/>
<circle cx="117.6" cy="268" r="22.3" fill="#1c2149"/>
<circle cx="252" cy="383.1" r="23" fill="#1c2149"/>
<circle cx="310.2" cy="550.5" r="23" fill="#1c2149"/>
<circle cx="383.6" cy="430.4" r="22.5" fill="#1c2149"/>
<circle cx="489.2" cy="512.6" r="23" fill="#1c2149"/>
<circle cx="591.4" cy="501.9" r="22.9" fill="#1c2149"/>
<circle cx="685.4" cy="576.1" r="26.5" fill="#1c2149"/>
</g>
<g id="icons" fill="none" stroke="#e4e4ee" stroke-width="1.3" stroke-linecap="round" stroke-linejoin="round">
<!-- tape measure -->
<g id="ico-tape" stroke-width="1.4">
<ellipse cx="64.4" cy="141.8" rx="10.9" ry="4.1"/>
<path d="M53.5,141.8 V149.2 C53.5,152.6 59.5,155.3 67.5,155.3 C75.5,155.3 82.7,152.4 82.7,148 V141.9"/>
<path d="M53.5,145.2 C54.5,148.2 60,150.3 66.5,150.3 C74.5,150.3 82.3,147.6 82.7,142.6"/>
<ellipse cx="64.7" cy="142.1" rx="4.2" ry="1.9" stroke-width="1.2"/>
<path d="M60.6,142.4 V146.3 C63,147.2 70,147.1 73.4,145.8" stroke-width="1.2"/>
<path d="M56.2,150.6 C60,152.4 72,152.6 77.6,150.4" stroke-width="1.5" stroke-dasharray="0.9 1.1" stroke-linecap="butt"/>
</g>
<!-- paint brush -->
<g id="ico-brush" fill="#ffffff" stroke="none">
<path d="M112.6,251.1 L129.1,253.8 L126.2,261.6 L111.7,259.6 Z"/>
<path d="M111.6,260.5 L126,262.5 L125.8,263.3 L111.5,261.3 Z" opacity="0.8"/>
<path d="M111.5,262 L125.7,264 L125,266.3 L111.7,264.4 Z"/>
<path d="M114.4,264.6 L123.2,265.9 C122.4,268 120.2,269.6 119.8,272 C119.4,275 119.6,280 118.6,284 C118.1,286.2 116.6,287.4 115.2,287 C113.8,286.6 113.3,285 113.6,283 C114.2,279 116.2,275 116.4,271.6 C116.5,269 115.2,266.8 114.4,264.6 Z"/>
<ellipse cx="115.3" cy="283" rx="0.75" ry="1.5" fill="#1c2149" transform="rotate(12 115.3 283)"/>
</g>
<!-- colour swatches -->
<g id="ico-swatch" stroke-width="1.35" stroke="#d6d6e6">
<rect x="239.7" y="369" width="8.5" height="27.5" rx="1.4"/>
<circle cx="244.1" cy="391.7" r="1.8"/>
<path d="M248.3,377.5 L251,371.4 C251.3,370.7 251.9,370.6 252.5,371 L256.8,374 C257.4,374.4 257.5,375 257.2,375.6 L248.6,391.2"/>
<path d="M257.9,376.5 L259.8,377.3 C260.4,377.6 260.8,378 261.2,378.6 L264.6,383.6 C265,384.3 264.8,384.9 264.2,385.3 L249,394.3"/>
<path d="M263.9,387.3 L266,388.3 C266.5,388.6 266.7,389 266.7,389.6 V395.2 C266.7,395.9 266.3,396.3 265.6,396.3 H248.3"/>
</g>
<!-- pitch -->
<g id="ico-pitch" stroke-width="1.5" stroke="#dcdcea">
<path d="M311.9,533.2 L296.2,560.1 H325.4" stroke-linecap="square" stroke-linejoin="miter"/>
<path d="M301.5,551 A10.6,10.6 0 0 1 306.8,560.1" stroke-width="1.3"/>
<path d="M311.6,539.6 A25.6,25.6 0 0 1 321.4,556.6" stroke-width="1.3"/>
<path d="M310.9,542.6 L311.3,539.3 L314.5,540.2" stroke-width="1.3"/>
<path d="M319,554.6 L321.5,557.3 L323.4,554.2" stroke-width="1.3"/>
</g>
<!-- flashing -->
<g id="ico-flash" stroke="none">
<path d="M363.7,434.7 L392.5,413.1 L393,414.2 L382,424.4 L380,425.4 Z" fill="#b9b9c2"/>
<path d="M381,424.2 L392.9,413.8 L403.3,428.6 C403.5,431.5 403.3,433.5 402.2,436.2 L392.2,441.7 Z" fill="#ffffff"/>
</g>
<!-- thickness -->
<g id="ico-thick" stroke="#e6e6f0">
<path d="M484.9,502 V523.3 M487.9,502 V523.3 M490.9,502 V523.3 M493.9,502 V523.3" stroke-width="1.5" stroke-linecap="butt"/>
<path d="M468.8,512.5 H481.6 M479,509.7 L481.9,512.5 L479,515.3" stroke-width="1.4"/>
<path d="M510,512.5 H497.2 M499.8,509.7 L496.9,512.5 L499.8,515.3" stroke-width="1.4"/>
</g>
<!-- drop -->
<g id="ico-drop" stroke="#e6e6f0">
<path d="M591.4,488.2 C588.5,494 581.3,502.5 581.3,508.5 C581.3,514.1 585.8,518.4 591.4,518.4 C597,518.4 601.5,514.1 601.5,508.5 C601.5,502.5 594.3,494 591.4,488.2 Z" stroke-width="1.5"/>
<path d="M585,507.6 C584.8,511.6 587.6,514.6 591.2,514.8" stroke-width="1.2"/>
</g>
<!-- house -->
<g id="ico-house" stroke="none">
<path d="M670.1,591.7 V572.8 L685.1,560.6 L700.3,572.8 V591.7 Z" fill="#ffffff"/>
<path d="M666.3,572 L685.1,556.7 L703.9,572" fill="none" stroke="#ffffff" stroke-width="2.2" stroke-linecap="butt" stroke-linejoin="miter"/>
</g>

</g>
<g id="labels" opacity="0.999">
<text transform="translate(46.00,193.00) scale(1.261,1)" textLength="101.83" lengthAdjust="spacing">Available in cut</text>
<text transform="translate(46.00,213.60) scale(1.270,1)" textLength="86.93" lengthAdjust="spacing">lengths of up</text>
<text transform="translate(46.00,234.00) scale(1.275,1)" textLength="37.96" lengthAdjust="spacing">to 5m</text>
<text transform="translate(97.30,311.00) scale(1.184,1)" textLength="63.28" lengthAdjust="spacing">Polyester</text>
<text transform="translate(97.00,332.00) scale(1.238,1)" textLength="52.32" lengthAdjust="spacing">Coating</text>
<text transform="translate(226.40,428.10) scale(1.185,1)" textLength="64.97" lengthAdjust="spacing">5 Colours</text>
<text transform="translate(226.40,448.75) scale(1.233,1)" textLength="61.33" lengthAdjust="spacing">Available</text>
<text transform="translate(283.60,598.00) scale(1.326,1)" textLength="99.54" lengthAdjust="spacing">Minimum Pitch</text>
<text transform="translate(283.60,619.00) scale(1.190,1)" textLength="75.96" lengthAdjust="spacing">10 degrees</text>
<text transform="translate(357.00,472.50) scale(1.278,1)" textLength="61.60" lengthAdjust="spacing">Matching</text>
<text transform="translate(357.30,493.50) scale(1.191,1)" textLength="64.97" lengthAdjust="spacing">Flashings</text>
<text transform="translate(356.25,514.80) scale(1.235,1)" textLength="61.33" lengthAdjust="spacing">Available</text>
<text transform="translate(464.40,558.90) scale(1.272,1)" textLength="46.39" lengthAdjust="spacing">0.5mm</text>
<text transform="translate(464.40,579.30) scale(1.163,1)" textLength="68.34" lengthAdjust="spacing">Thickness</text>
<text transform="translate(566.80,549.70) scale(1.254,1)" textLength="56.53" lengthAdjust="spacing">Dripstop</text>
<text transform="translate(565.50,569.90) scale(1.228,1)" textLength="61.33" lengthAdjust="spacing">Available</text>
<text transform="translate(659.60,625.00) scale(1.202,1)" textLength="87.76" lengthAdjust="spacing">Roof Or Side</text>
<text transform="translate(658.75,646.00) scale(1.285,1)" textLength="59.93" lengthAdjust="spacing">Cladding</text>
<text transform="translate(658.75,667.40) scale(1.314,1)" textLength="74.27" lengthAdjust="spacing">Application</text>
</g>
</svg>
</body></html>
